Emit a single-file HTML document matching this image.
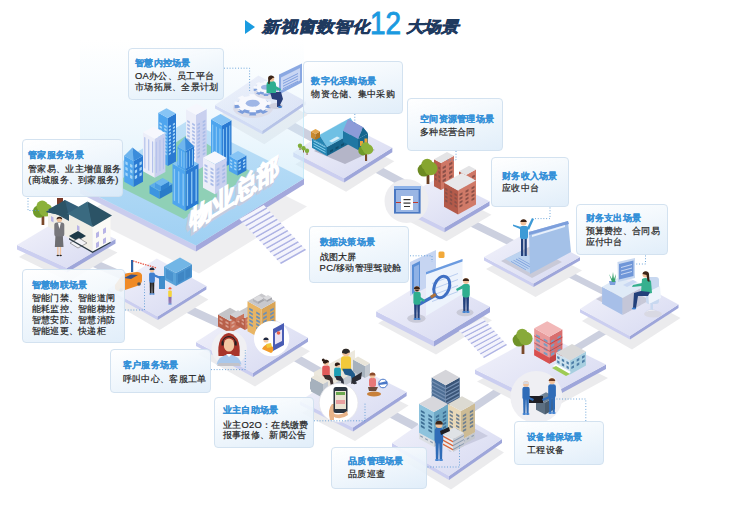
<!DOCTYPE html>
<html><head><meta charset="utf-8"><style>
html,body{margin:0;padding:0;background:#fff;}
body{width:742px;height:509px;position:relative;overflow:hidden;font-family:"Liberation Sans",sans-serif;}
svg{position:absolute;left:0;top:0;}
.lb{position:absolute;box-sizing:border-box;border:1px solid #d3e2f0;border-radius:4px;background:linear-gradient(165deg,rgba(255,255,255,.93) 0%,rgba(244,249,253,.9) 35%,rgba(222,236,249,.9) 100%);}
.lt{position:absolute;color:#3390d8;font-size:9.4px;letter-spacing:0.3px;font-weight:bold;-webkit-text-stroke:0.1px #3390d8;line-height:12px;white-space:nowrap;}
.lx{position:absolute;color:#1e1e1e;font-size:9.4px;letter-spacing:0.3px;-webkit-text-stroke:0.2px #1e1e1e;line-height:12px;white-space:nowrap;}
.tt{position:absolute;font-size:17.8px;font-weight:900;color:#1f3a5f;white-space:nowrap;line-height:20px;-webkit-text-stroke:0.7px #1f3a5f;transform-origin:0 0;transform:scaleY(0.87) skewX(-13deg);}
.t12{position:absolute;left:370px;top:6.5px;font-size:31px;line-height:34px;color:#1a9ae0;white-space:nowrap;-webkit-text-stroke:0.9px #1a9ae0;transform-origin:0 0;transform:scaleX(0.9);}
.tri{position:absolute;left:245px;top:20px;width:0;height:0;border-top:7.5px solid transparent;border-bottom:7.5px solid transparent;border-left:10px solid #1a9be0;}
</style></head><body>
<svg width="742" height="509" viewBox="0 0 742 509">
<defs>
<linearGradient id="gTop" x1="0" y1="0" x2="1" y2="1"><stop offset="0" stop-color="#f3f3fb"/><stop offset="1" stop-color="#d6d9f1"/></linearGradient>
<linearGradient id="gGlow" gradientUnits="userSpaceOnUse" x1="0" y1="40" x2="0" y2="240"><stop offset="0" stop-color="#e3f2fc" stop-opacity="0"/><stop offset="0.25" stop-color="#e0f1fc" stop-opacity="0.3"/><stop offset="0.45" stop-color="#d8eefb" stop-opacity="0.42"/><stop offset="0.65" stop-color="#d2ecfa" stop-opacity="0.62"/><stop offset="1" stop-color="#c9e8f9" stop-opacity="0.85"/></linearGradient>
<linearGradient id="gHQ" x1="0" y1="0" x2="0" y2="1"><stop offset="0" stop-color="#bfe0f7"/><stop offset="1" stop-color="#9fd0f3"/></linearGradient>
</defs>
<polygon points="255.0,101.0 330.0,142.0 330.0,152.0 255.0,111.0" fill="#ccd0df" />
<polygon points="360.0,155.5 420.0,187.5 420.0,196.5 360.0,164.5" fill="#ccd0df" />
<polygon points="455.0,211.0 520.0,243.0 520.0,251.0 455.0,219.0" fill="#ccd0df" />
<polygon points="545.0,258.5 612.0,292.5 612.0,299.5 545.0,265.5" fill="#ccd0df" />
<polygon points="620.0,318.0 560.0,354.0 560.0,362.0 620.0,326.0" fill="#ccd0df" />
<polygon points="512.0,377.5 470.0,405.5 470.0,414.5 512.0,386.5" fill="#ccd0df" />
<polygon points="418.0,423.5 380.0,403.5 380.0,412.5 418.0,432.5" fill="#ccd0df" />
<polygon points="282.0,345.5 335.0,375.5 335.0,384.5 282.0,354.5" fill="#ccd0df" />
<polygon points="175.0,298.5 225.0,321.5 225.0,330.5 175.0,307.5" fill="#ccd0df" />
<polygon points="75.0,250.8 128.0,273.8 128.0,282.2 75.0,259.2" fill="#ccd0df" />
<polygon points="19.0,257.0 69.0,281.5 117.5,252.5 67.5,229.5" fill="#ebebed" />
<polygon points="17.0,245.0 67.0,268.0 67.0,272.5 17.0,249.5" fill="#cbcef0" />
<polygon points="67.0,268.0 115.5,239.0 115.5,243.5 67.0,272.5" fill="#9ea6da" />
<polygon points="17.0,245.0 67.0,268.0 115.5,239.0 65.5,216.0" fill="url(#gTop)" />
<polygon points="110.0,301.0 159.6,330.0 208.4,299.5 158.8,272.0" fill="#ebebed" />
<polygon points="108.0,289.0 157.6,316.5 157.6,320.0 108.0,292.5" fill="#cbcef0" />
<polygon points="157.6,316.5 206.4,286.0 206.4,289.5 157.6,320.0" fill="#9ea6da" />
<polygon points="108.0,289.0 157.6,316.5 206.4,286.0 156.8,258.5" fill="url(#gTop)" />
<polygon points="198.0,354.0 255.0,386.5 310.0,351.2 253.0,320.2" fill="#ebebed" />
<polygon points="196.0,342.0 253.0,373.0 253.0,377.0 196.0,346.0" fill="#cbcef0" />
<polygon points="253.0,373.0 308.0,337.7 308.0,341.7 253.0,377.0" fill="#9ea6da" />
<polygon points="196.0,342.0 253.0,373.0 308.0,337.7 251.0,306.7" fill="url(#gTop)" />
<polygon points="302.0,413.0 355.0,441.0 408.6,405.5 355.6,379.0" fill="#ebebed" />
<polygon points="300.0,401.0 353.0,427.5 353.0,431.5 300.0,405.0" fill="#cbcef0" />
<polygon points="353.0,427.5 406.6,392.0 406.6,396.0 353.0,431.5" fill="#9ea6da" />
<polygon points="300.0,401.0 353.0,427.5 406.6,392.0 353.6,365.5" fill="url(#gTop)" />
<polygon points="394.0,455.0 451.0,489.5 504.0,452.5 447.0,419.5" fill="#ebebed" />
<polygon points="392.0,443.0 449.0,476.0 449.0,480.0 392.0,447.0" fill="#cbcef0" />
<polygon points="449.0,476.0 502.0,439.0 502.0,443.0 449.0,480.0" fill="#9ea6da" />
<polygon points="392.0,443.0 449.0,476.0 502.0,439.0 445.0,406.0" fill="url(#gTop)" />
<polygon points="477.0,381.5 541.0,414.5 608.0,378.0 544.0,346.5" fill="#ebebed" />
<polygon points="475.0,369.5 539.0,401.0 539.0,405.5 475.0,374.0" fill="#cbcef0" />
<polygon points="539.0,401.0 606.0,364.5 606.0,369.0 539.0,405.5" fill="#9ea6da" />
<polygon points="475.0,369.5 539.0,401.0 606.0,364.5 542.0,333.0" fill="url(#gTop)" />
<polygon points="378.1,323.2 436.0,354.5 492.0,320.3 434.1,290.5" fill="#ebebed" />
<polygon points="376.1,311.2 434.0,341.0 434.0,346.5 376.1,316.7" fill="#cbcef0" />
<polygon points="434.0,341.0 490.0,306.8 490.0,312.3 434.0,346.5" fill="#9ea6da" />
<polygon points="376.1,311.2 434.0,341.0 490.0,306.8 432.1,277.0" fill="url(#gTop)" />
<polygon points="582.0,321.0 632.0,349.5 680.5,318.0 630.5,291.0" fill="#ebebed" />
<polygon points="580.0,309.0 630.0,336.0 630.0,339.5 580.0,312.5" fill="#cbcef0" />
<polygon points="630.0,336.0 678.5,304.5 678.5,308.0 630.0,339.5" fill="#9ea6da" />
<polygon points="580.0,309.0 630.0,336.0 678.5,304.5 628.5,277.5" fill="url(#gTop)" />
<polygon points="486.0,269.0 535.5,297.0 582.0,270.5 532.5,244.0" fill="#ebebed" />
<polygon points="484.0,257.0 533.5,283.5 533.5,287.0 484.0,260.5" fill="#cbcef0" />
<polygon points="533.5,283.5 580.0,257.0 580.0,260.5 533.5,287.0" fill="#9ea6da" />
<polygon points="484.0,257.0 533.5,283.5 580.0,257.0 530.5,230.5" fill="url(#gTop)" />
<polygon points="397.0,215.0 446.5,241.2 491.5,214.7 442.0,190.0" fill="#ebebed" />
<polygon points="395.0,203.0 444.5,227.7 444.5,232.2 395.0,207.5" fill="#cbcef0" />
<polygon points="444.5,227.7 489.5,201.2 489.5,205.7 444.5,232.2" fill="#9ea6da" />
<polygon points="395.0,203.0 444.5,227.7 489.5,201.2 440.0,176.5" fill="url(#gTop)" />
<polygon points="295.3,164.3 346.1,191.7 394.3,161.3 343.5,135.4" fill="#ebebed" />
<polygon points="293.3,152.3 344.1,178.2 344.1,182.6 293.3,156.7" fill="#cbcef0" />
<polygon points="344.1,178.2 392.3,147.8 392.3,152.2 344.1,182.6" fill="#9ea6da" />
<polygon points="293.3,152.3 344.1,178.2 392.3,147.8 341.5,121.9" fill="url(#gTop)" />
<polygon points="217.0,117.0 264.3,144.2 307.7,114.8 260.4,89.1" fill="#ebebed" />
<polygon points="215.0,105.0 262.3,130.7 262.3,134.2 215.0,108.5" fill="#cbcef0" />
<polygon points="262.3,130.7 305.7,101.3 305.7,104.8 262.3,134.2" fill="#9ea6da" />
<polygon points="215.0,105.0 262.3,130.7 305.7,101.3 258.4,75.6" fill="url(#gTop)" />
<polygon points="83.0,215.5 199.0,273.5 307.0,206.5 191.0,148.5" fill="#eeeef0" />
<polygon points="80.0,40.0 304.0,40.0 304.0,178.5 196.0,245.5 80.0,187.5" fill="url(#gGlow)" />
<line x1="303.5" y1="70" x2="303.5" y2="179" stroke="#bfe8f8" stroke-width="1" opacity="0.7"/>
<polygon points="80.0,187.5 196.0,245.5 196.0,251.5 80.0,193.5" fill="#c9ccee" />
<polygon points="196.0,245.5 304.0,178.5 304.0,184.5 196.0,251.5" fill="#a3a8dc" />
<polygon points="80.0,187.5 196.0,245.5 304.0,178.5 188.0,120.5" fill="url(#gHQ)" />
<polygon points="114.0,184.0 184.0,219.0 253.0,173.0 190.0,133.0" fill="#8fd0b6" />
<polygon points="158.3,112.8 167.8,118.0 167.8,166.0 158.3,160.8" fill="#4ea5ee" />
<polygon points="167.8,118.0 176.0,113.5 176.0,161.5 167.8,166.0" fill="#2a7ad2" />
<polygon points="158.3,112.8 167.8,118.0 176.0,113.5 166.5,108.3" fill="#86c4f5" />
<polygon points="159.5,123.9 161.9,125.3 161.9,123.4 159.5,122.1" fill="#a5d5f7" />
<polygon points="164.2,126.6 166.6,127.9 166.6,126.0 164.2,124.7" fill="#a5d5f7" />
<polygon points="159.5,127.4 161.9,128.7 161.9,126.8 159.5,125.5" fill="#a5d5f7" />
<polygon points="164.2,130.0 166.6,131.3 166.6,129.4 164.2,128.1" fill="#a5d5f7" />
<polygon points="159.5,130.8 161.9,132.1 161.9,130.2 159.5,128.9" fill="#a5d5f7" />
<polygon points="164.2,133.4 166.6,134.7 166.6,132.8 164.2,131.5" fill="#a5d5f7" />
<polygon points="159.5,134.2 161.9,135.5 161.9,133.6 159.5,132.3" fill="#a5d5f7" />
<polygon points="164.2,136.8 166.6,138.1 166.6,136.2 164.2,134.9" fill="#a5d5f7" />
<polygon points="159.5,137.6 161.9,138.9 161.9,137.0 159.5,135.7" fill="#a5d5f7" />
<polygon points="164.2,140.2 166.6,141.5 166.6,139.6 164.2,138.3" fill="#a5d5f7" />
<polygon points="159.5,141.0 161.9,142.3 161.9,140.4 159.5,139.1" fill="#a5d5f7" />
<polygon points="164.2,143.6 166.6,144.9 166.6,143.1 164.2,141.7" fill="#a5d5f7" />
<polygon points="159.5,144.4 161.9,145.7 161.9,143.9 159.5,142.5" fill="#a5d5f7" />
<polygon points="164.2,147.0 166.6,148.3 166.6,146.5 164.2,145.2" fill="#a5d5f7" />
<polygon points="159.5,147.8 161.9,149.1 161.9,147.3 159.5,146.0" fill="#a5d5f7" />
<polygon points="164.2,150.5 166.6,151.8 166.6,149.9 164.2,148.6" fill="#a5d5f7" />
<polygon points="159.5,151.3 161.9,152.6 161.9,150.7 159.5,149.4" fill="#a5d5f7" />
<polygon points="164.2,153.9 166.6,155.2 166.6,153.3 164.2,152.0" fill="#a5d5f7" />
<polygon points="168.8,128.0 170.9,126.8 170.9,124.9 168.8,126.1" fill="#a5d5f7" />
<polygon points="172.9,125.7 175.0,124.6 175.0,122.7 172.9,123.8" fill="#a5d5f7" />
<polygon points="168.8,131.4 170.9,130.2 170.9,128.4 168.8,129.5" fill="#a5d5f7" />
<polygon points="172.9,129.1 175.0,128.0 175.0,126.1 172.9,127.2" fill="#a5d5f7" />
<polygon points="168.8,134.8 170.9,133.7 170.9,131.8 168.8,132.9" fill="#a5d5f7" />
<polygon points="172.9,132.5 175.0,131.4 175.0,129.5 172.9,130.6" fill="#a5d5f7" />
<polygon points="168.8,138.2 170.9,137.1 170.9,135.2 168.8,136.3" fill="#a5d5f7" />
<polygon points="172.9,135.9 175.0,134.8 175.0,132.9 172.9,134.1" fill="#a5d5f7" />
<polygon points="168.8,141.6 170.9,140.5 170.9,138.6 168.8,139.7" fill="#a5d5f7" />
<polygon points="172.9,139.4 175.0,138.2 175.0,136.3 172.9,137.5" fill="#a5d5f7" />
<polygon points="168.8,145.0 170.9,143.9 170.9,142.0 168.8,143.1" fill="#a5d5f7" />
<polygon points="172.9,142.8 175.0,141.6 175.0,139.8 172.9,140.9" fill="#a5d5f7" />
<polygon points="168.8,148.4 170.9,147.3 170.9,145.4 168.8,146.6" fill="#a5d5f7" />
<polygon points="172.9,146.2 175.0,145.1 175.0,143.2 172.9,144.3" fill="#a5d5f7" />
<polygon points="168.8,151.8 170.9,150.7 170.9,148.8 168.8,150.0" fill="#a5d5f7" />
<polygon points="172.9,149.6 175.0,148.5 175.0,146.6 172.9,147.7" fill="#a5d5f7" />
<polygon points="168.8,155.3 170.9,154.1 170.9,152.3 168.8,153.4" fill="#a5d5f7" />
<polygon points="172.9,153.0 175.0,151.9 175.0,150.0 172.9,151.1" fill="#a5d5f7" />
<polygon points="186.0,109.3 196.0,114.8 196.0,170.8 186.0,165.3" fill="#eceef9" />
<polygon points="196.0,114.8 206.7,108.9 206.7,164.9 196.0,170.8" fill="#c9d0ef" />
<polygon points="186.0,109.3 196.0,114.8 206.7,108.9 196.7,103.4" fill="#f6f7fd" />
<polygon points="187.2,122.0 189.8,123.4 189.8,121.4 187.2,120.1" fill="#a9bbe8" />
<polygon points="192.2,124.8 194.8,126.2 194.8,124.2 192.2,122.8" fill="#a9bbe8" />
<polygon points="187.2,125.6 189.8,127.0 189.8,125.0 187.2,123.7" fill="#a9bbe8" />
<polygon points="192.2,128.4 194.8,129.7 194.8,127.8 192.2,126.4" fill="#a9bbe8" />
<polygon points="187.2,129.2 189.8,130.6 189.8,128.6 187.2,127.2" fill="#a9bbe8" />
<polygon points="192.2,132.0 194.8,133.3 194.8,131.4 192.2,130.0" fill="#a9bbe8" />
<polygon points="187.2,132.8 189.8,134.2 189.8,132.2 187.2,130.8" fill="#a9bbe8" />
<polygon points="192.2,135.5 194.8,136.9 194.8,134.9 192.2,133.6" fill="#a9bbe8" />
<polygon points="187.2,136.4 189.8,137.7 189.8,135.8 187.2,134.4" fill="#a9bbe8" />
<polygon points="192.2,139.1 194.8,140.5 194.8,138.5 192.2,137.2" fill="#a9bbe8" />
<polygon points="187.2,140.0 189.8,141.3 189.8,139.4 187.2,138.0" fill="#a9bbe8" />
<polygon points="192.2,142.7 194.8,144.1 194.8,142.1 192.2,140.7" fill="#a9bbe8" />
<polygon points="187.2,143.5 189.8,144.9 189.8,142.9 187.2,141.6" fill="#a9bbe8" />
<polygon points="192.2,146.3 194.8,147.7 194.8,145.7 192.2,144.3" fill="#a9bbe8" />
<polygon points="187.2,147.1 189.8,148.5 189.8,146.5 187.2,145.2" fill="#a9bbe8" />
<polygon points="192.2,149.9 194.8,151.3 194.8,149.3 192.2,147.9" fill="#a9bbe8" />
<polygon points="187.2,150.7 189.8,152.1 189.8,150.1 187.2,148.7" fill="#a9bbe8" />
<polygon points="192.2,153.5 194.8,154.8 194.8,152.9 192.2,151.5" fill="#a9bbe8" />
<polygon points="187.2,154.3 189.8,155.7 189.8,153.7 187.2,152.3" fill="#a9bbe8" />
<polygon points="192.2,157.0 194.8,158.4 194.8,156.4 192.2,155.1" fill="#a9bbe8" />
<polygon points="197.3,126.1 200.0,124.6 200.0,122.7 197.3,124.1" fill="#a9bbe8" />
<polygon points="202.7,123.2 205.4,121.7 205.4,119.7 202.7,121.2" fill="#a9bbe8" />
<polygon points="197.3,129.7 200.0,128.2 200.0,126.3 197.3,127.7" fill="#a9bbe8" />
<polygon points="202.7,126.8 205.4,125.3 205.4,123.3 202.7,124.8" fill="#a9bbe8" />
<polygon points="197.3,133.3 200.0,131.8 200.0,129.8 197.3,131.3" fill="#a9bbe8" />
<polygon points="202.7,130.3 205.4,128.9 205.4,126.9 202.7,128.4" fill="#a9bbe8" />
<polygon points="197.3,136.9 200.0,135.4 200.0,133.4 197.3,134.9" fill="#a9bbe8" />
<polygon points="202.7,133.9 205.4,132.5 205.4,130.5 202.7,132.0" fill="#a9bbe8" />
<polygon points="197.3,140.5 200.0,139.0 200.0,137.0 197.3,138.5" fill="#a9bbe8" />
<polygon points="202.7,137.5 205.4,136.0 205.4,134.1 202.7,135.5" fill="#a9bbe8" />
<polygon points="197.3,144.0 200.0,142.6 200.0,140.6 197.3,142.1" fill="#a9bbe8" />
<polygon points="202.7,141.1 205.4,139.6 205.4,137.7 202.7,139.1" fill="#a9bbe8" />
<polygon points="197.3,147.6 200.0,146.1 200.0,144.2 197.3,145.6" fill="#a9bbe8" />
<polygon points="202.7,144.7 205.4,143.2 205.4,141.2 202.7,142.7" fill="#a9bbe8" />
<polygon points="197.3,151.2 200.0,149.7 200.0,147.8 197.3,149.2" fill="#a9bbe8" />
<polygon points="202.7,148.3 205.4,146.8 205.4,144.8 202.7,146.3" fill="#a9bbe8" />
<polygon points="197.3,154.8 200.0,153.3 200.0,151.3 197.3,152.8" fill="#a9bbe8" />
<polygon points="202.7,151.8 205.4,150.4 205.4,148.4 202.7,149.9" fill="#a9bbe8" />
<polygon points="197.3,158.4 200.0,156.9 200.0,154.9 197.3,156.4" fill="#a9bbe8" />
<polygon points="202.7,155.4 205.4,154.0 205.4,152.0 202.7,153.5" fill="#a9bbe8" />
<polygon points="211.0,119.3 222.0,125.4 222.0,168.4 211.0,162.3" fill="#4ea5ee" />
<polygon points="222.0,125.4 231.5,120.2 231.5,163.2 222.0,168.4" fill="#2a7ad2" />
<polygon points="211.0,119.3 222.0,125.4 231.5,120.2 220.5,114.1" fill="#86c4f5" />
<polygon points="212.1,124.3 213.2,124.9 213.2,159.3 212.1,158.7" fill="#8cc8f4" />
<polygon points="222.9,129.2 223.9,128.7 223.9,163.1 222.9,163.6" fill="#8cc8f4" />
<polygon points="215.8,126.3 216.9,126.9 216.9,161.3 215.8,160.7" fill="#8cc8f4" />
<polygon points="226.1,127.4 227.1,126.9 227.1,161.3 226.1,161.8" fill="#8cc8f4" />
<polygon points="219.4,128.3 220.5,128.9 220.5,163.3 219.4,162.7" fill="#8cc8f4" />
<polygon points="229.3,125.7 230.2,125.2 230.2,159.6 229.3,160.1" fill="#8cc8f4" />
<polygon points="229.0,155.9 237.4,160.5 237.4,175.5 229.0,170.9" fill="#4ea5ee" />
<polygon points="237.4,160.5 246.4,155.6 246.4,170.6 237.4,175.5" fill="#2a7ad2" />
<polygon points="229.0,155.9 237.4,160.5 246.4,155.6 238.0,150.9" fill="#86c4f5" />
<polygon points="230.1,160.9 232.2,162.1 232.2,160.3 230.1,159.2" fill="#a5d5f7" />
<polygon points="234.2,163.2 236.3,164.4 236.3,162.6 234.2,161.5" fill="#a5d5f7" />
<polygon points="230.1,164.1 232.2,165.3 232.2,163.5 230.1,162.4" fill="#a5d5f7" />
<polygon points="234.2,166.4 236.3,167.6 236.3,165.8 234.2,164.7" fill="#a5d5f7" />
<polygon points="230.1,167.3 232.2,168.5 232.2,166.7 230.1,165.6" fill="#a5d5f7" />
<polygon points="234.2,169.6 236.3,170.8 236.3,169.0 234.2,167.9" fill="#a5d5f7" />
<polygon points="238.5,164.3 240.8,163.1 240.8,161.3 238.5,162.6" fill="#a5d5f7" />
<polygon points="243.0,161.9 245.3,160.6 245.3,158.9 243.0,160.1" fill="#a5d5f7" />
<polygon points="238.5,167.5 240.8,166.3 240.8,164.5 238.5,165.8" fill="#a5d5f7" />
<polygon points="243.0,165.1 245.3,163.8 245.3,162.1 243.0,163.3" fill="#a5d5f7" />
<polygon points="238.5,170.7 240.8,169.5 240.8,167.7 238.5,169.0" fill="#a5d5f7" />
<polygon points="243.0,168.3 245.3,167.0 245.3,165.3 243.0,166.5" fill="#a5d5f7" />
<polygon points="143.0,132.3 154.8,138.8 154.8,177.8 143.0,171.3" fill="#eceef9" />
<polygon points="154.8,138.8 165.4,133.0 165.4,172.0 154.8,177.8" fill="#c9d0ef" />
<polygon points="143.0,132.3 154.8,138.8 165.4,133.0 153.6,126.5" fill="#f6f7fd" />
<polygon points="144.2,136.9 145.4,137.5 145.4,168.7 144.2,168.1" fill="#b4c2ec" />
<polygon points="155.9,142.1 156.9,141.5 156.9,172.7 155.9,173.3" fill="#b4c2ec" />
<polygon points="148.1,139.0 149.3,139.7 149.3,170.9 148.1,170.2" fill="#b4c2ec" />
<polygon points="159.4,140.2 160.5,139.6 160.5,170.8 159.4,171.4" fill="#b4c2ec" />
<polygon points="152.0,141.2 153.2,141.8 153.2,173.0 152.0,172.4" fill="#b4c2ec" />
<polygon points="162.9,138.2 164.0,137.6 164.0,168.8 162.9,169.4" fill="#b4c2ec" />
<polygon points="124.2,155.8 133.6,161.0 133.6,187.0 124.2,181.8" fill="#4ea5ee" />
<polygon points="133.6,161.0 143.0,155.8 143.0,181.8 133.6,187.0" fill="#2a7ad2" />
<polygon points="124.2,155.8 133.6,161.0 143.0,155.8 133.6,150.7" fill="#86c4f5" />
<polygon points="125.4,164.2 127.7,165.5 127.7,162.4 125.4,161.2" fill="#a5d5f7" />
<polygon points="130.1,166.8 132.4,168.1 132.4,165.0 130.1,163.7" fill="#a5d5f7" />
<polygon points="125.4,169.8 127.7,171.0 127.7,168.0 125.4,166.7" fill="#a5d5f7" />
<polygon points="130.1,172.3 132.4,173.6 132.4,170.6 130.1,169.3" fill="#a5d5f7" />
<polygon points="125.4,175.3 127.7,176.6 127.7,173.5 125.4,172.2" fill="#a5d5f7" />
<polygon points="130.1,177.9 132.4,179.2 132.4,176.1 130.1,174.8" fill="#a5d5f7" />
<polygon points="134.8,168.1 137.1,166.8 137.1,163.7 134.8,165.0" fill="#a5d5f7" />
<polygon points="139.5,165.5 141.8,164.2 141.8,161.2 139.5,162.4" fill="#a5d5f7" />
<polygon points="134.8,173.6 137.1,172.3 137.1,169.3 134.8,170.6" fill="#a5d5f7" />
<polygon points="139.5,171.0 141.8,169.8 141.8,166.7 139.5,168.0" fill="#a5d5f7" />
<polygon points="134.8,179.2 137.1,177.9 137.1,174.8 134.8,176.1" fill="#a5d5f7" />
<polygon points="139.5,176.6 141.8,175.3 141.8,172.2 139.5,173.5" fill="#a5d5f7" />
<polygon points="124.2,155.8 133.6,161.0 132.4,147.5" fill="#6fb5ee" />
<polygon points="133.6,161.0 143.0,155.8 132.4,147.5" fill="#3b8cdb" />
<polygon points="203.0,157.7 215.0,164.3 215.0,194.3 203.0,187.7" fill="#eceef9" />
<polygon points="215.0,164.3 226.7,157.9 226.7,187.9 215.0,194.3" fill="#c9d0ef" />
<polygon points="203.0,157.7 215.0,164.3 226.7,157.9 214.7,151.3" fill="#f6f7fd" />
<polygon points="204.5,166.0 207.5,167.7 207.5,165.6 204.5,163.9" fill="#a9bbe8" />
<polygon points="210.5,169.3 213.5,171.0 213.5,168.9 210.5,167.2" fill="#a9bbe8" />
<polygon points="204.5,169.9 207.5,171.5 207.5,169.4 204.5,167.8" fill="#a9bbe8" />
<polygon points="210.5,173.2 213.5,174.8 213.5,172.7 210.5,171.1" fill="#a9bbe8" />
<polygon points="204.5,173.7 207.5,175.4 207.5,173.3 204.5,171.6" fill="#a9bbe8" />
<polygon points="210.5,177.0 213.5,178.7 213.5,176.6 210.5,174.9" fill="#a9bbe8" />
<polygon points="204.5,177.6 207.5,179.2 207.5,177.1 204.5,175.4" fill="#a9bbe8" />
<polygon points="210.5,180.9 213.5,182.5 213.5,180.4 210.5,178.7" fill="#a9bbe8" />
<polygon points="204.5,181.4 207.5,183.0 207.5,180.9 204.5,179.3" fill="#a9bbe8" />
<polygon points="210.5,184.7 213.5,186.3 213.5,184.2 210.5,182.6" fill="#a9bbe8" />
<polygon points="216.5,171.0 219.4,169.4 219.4,167.3 216.5,168.9" fill="#a9bbe8" />
<polygon points="222.3,167.8 225.2,166.2 225.2,164.1 222.3,165.7" fill="#a9bbe8" />
<polygon points="216.5,174.8 219.4,173.2 219.4,171.1 216.5,172.7" fill="#a9bbe8" />
<polygon points="222.3,171.6 225.2,170.0 225.2,167.9 222.3,169.5" fill="#a9bbe8" />
<polygon points="216.5,178.7 219.4,177.1 219.4,175.0 216.5,176.6" fill="#a9bbe8" />
<polygon points="222.3,175.5 225.2,173.9 225.2,171.7 222.3,173.4" fill="#a9bbe8" />
<polygon points="216.5,182.5 219.4,180.9 219.4,178.8 216.5,180.4" fill="#a9bbe8" />
<polygon points="222.3,179.3 225.2,177.7 225.2,175.6 222.3,177.2" fill="#a9bbe8" />
<polygon points="216.5,186.4 219.4,184.8 219.4,182.6 216.5,184.3" fill="#a9bbe8" />
<polygon points="222.3,183.2 225.2,181.5 225.2,179.4 222.3,181.0" fill="#a9bbe8" />
<polygon points="149.5,185.5 159.5,191.0 159.5,199.0 149.5,193.5" fill="#3d95e0" />
<polygon points="159.5,191.0 172.5,183.8 172.5,191.8 159.5,199.0" fill="#2a7cc8" />
<polygon points="149.5,185.5 159.5,191.0 172.5,183.8 162.5,178.3" fill="#5eaee9" />
<polygon points="155.0,182.7 161.0,186.0 161.0,191.0 155.0,187.7" fill="#4a9ee4" />
<polygon points="161.0,186.0 169.0,181.6 169.0,186.6 161.0,191.0" fill="#2f82cf" />
<polygon points="155.0,182.7 161.0,186.0 169.0,181.6 163.0,178.3" fill="#6fb8ee" />
<polygon points="172.5,163.8 185.5,171.0 185.5,211.0 172.5,203.8" fill="#4ea5ee" />
<polygon points="185.5,171.0 198.5,163.8 198.5,203.8 185.5,211.0" fill="#2a7ad2" />
<polygon points="172.5,163.8 185.5,171.0 198.5,163.8 185.5,156.7" fill="#86c4f5" />
<polygon points="173.8,168.6 175.1,169.3 175.1,201.3 173.8,200.6" fill="#8cc8f4" />
<polygon points="186.8,174.3 188.1,173.6 188.1,205.6 186.8,206.3" fill="#8cc8f4" />
<polygon points="178.1,170.9 179.4,171.7 179.4,203.7 178.1,202.9" fill="#8cc8f4" />
<polygon points="191.1,171.9 192.4,171.2 192.4,203.2 191.1,203.9" fill="#8cc8f4" />
<polygon points="182.5,173.3 183.8,174.0 183.8,206.0 182.5,205.3" fill="#8cc8f4" />
<polygon points="195.5,169.5 196.8,168.8 196.8,200.8 195.5,201.5" fill="#8cc8f4" />
<polygon points="177.5,146.6 185.5,151.0 185.5,171.0 177.5,166.6" fill="#4ea5ee" />
<polygon points="185.5,151.0 194.0,146.3 194.0,166.3 185.5,171.0" fill="#2a7ad2" />
<polygon points="177.5,146.6 185.5,151.0 194.0,146.3 186.0,141.9" fill="#86c4f5" />
<polygon points="178.3,149.0 179.1,149.5 179.1,165.5 178.3,165.0" fill="#8cc8f4" />
<polygon points="186.3,152.5 187.2,152.1 187.2,168.1 186.3,168.5" fill="#8cc8f4" />
<polygon points="181.0,150.5 181.8,150.9 181.8,166.9 181.0,166.5" fill="#8cc8f4" />
<polygon points="189.2,151.0 190.0,150.5 190.0,166.5 189.2,167.0" fill="#8cc8f4" />
<polygon points="183.6,152.0 184.4,152.4 184.4,168.4 183.6,168.0" fill="#8cc8f4" />
<polygon points="192.0,149.4 192.9,148.9 192.9,164.9 192.0,165.4" fill="#8cc8f4" />
<polygon points="177.5,146.6 185.5,151.0 185.0,137.0" fill="#6fb5ee" />
<polygon points="185.5,151.0 194.0,146.3 185.0,137.0" fill="#3b8cdb" />
<g transform="translate(190,230) skewY(-32) scale(0.88,1)" font-family="Liberation Sans, sans-serif" font-weight="900" font-size="25.5" letter-spacing="0"><text x="-3.2" y="2.6" fill="#c3ccdf" stroke="#c3ccdf" stroke-width="1.3">物业总部</text><text x="-2.4" y="1.95" fill="#c3ccdf" stroke="#c3ccdf" stroke-width="1.3">物业总部</text><text x="-1.6" y="1.3" fill="#c3ccdf" stroke="#c3ccdf" stroke-width="1.3">物业总部</text><text x="-0.8" y="0.65" fill="#c3ccdf" stroke="#c3ccdf" stroke-width="1.3">物业总部</text><text x="0" y="0" fill="#ffffff" stroke="#ffffff" stroke-width="1.3">物业总部</text></g>
<polygon points="239.4,219.0 263.8,205.0 267.3,208.8 242.9,222.8" fill="#f4f4fc" />
<polygon points="241.8,221.6 266.2,207.6 267.3,208.8 242.9,222.8" fill="#aeb3e4" />
<polygon points="242.9,222.8 267.3,208.8 270.8,212.5 246.3,226.5" fill="#f4f4fc" />
<polygon points="245.2,225.3 269.7,211.3 270.8,212.5 246.3,226.5" fill="#aeb3e4" />
<polygon points="246.3,226.5 270.8,212.5 274.4,216.2 249.8,230.2" fill="#f4f4fc" />
<polygon points="248.7,229.1 273.2,215.1 274.4,216.2 249.8,230.2" fill="#aeb3e4" />
<polygon points="249.8,230.2 274.4,216.2 277.9,220.0 253.3,234.0" fill="#f4f4fc" />
<polygon points="252.2,232.8 276.7,218.8 277.9,220.0 253.3,234.0" fill="#aeb3e4" />
<polygon points="253.3,234.0 277.9,220.0 281.4,223.8 256.7,237.8" fill="#f4f4fc" />
<polygon points="255.6,236.6 280.3,222.6 281.4,223.8 256.7,237.8" fill="#aeb3e4" />
<polygon points="256.7,237.8 281.4,223.8 284.9,227.5 260.2,241.5" fill="#f4f4fc" />
<polygon points="259.1,240.3 283.8,226.3 284.9,227.5 260.2,241.5" fill="#aeb3e4" />
<polygon points="260.2,241.5 284.9,227.5 288.4,231.2 263.7,245.2" fill="#f4f4fc" />
<polygon points="262.6,244.1 287.3,230.1 288.4,231.2 263.7,245.2" fill="#aeb3e4" />
<polygon points="263.7,245.2 288.4,231.2 291.9,235.0 267.1,249.0" fill="#f4f4fc" />
<polygon points="266.0,247.8 290.8,233.8 291.9,235.0 267.1,249.0" fill="#aeb3e4" />
<polygon points="267.1,249.0 291.9,235.0 295.4,238.8 270.6,252.8" fill="#f4f4fc" />
<polygon points="269.5,251.6 294.3,237.6 295.4,238.8 270.6,252.8" fill="#aeb3e4" />
<polygon points="270.6,252.8 295.4,238.8 299.0,242.5 274.1,256.5" fill="#f4f4fc" />
<polygon points="273.0,255.3 297.8,241.3 299.0,242.5 274.1,256.5" fill="#aeb3e4" />
<polygon points="274.1,256.5 299.0,242.5 302.5,246.2 277.5,260.2" fill="#f4f4fc" />
<polygon points="276.4,259.1 301.4,245.1 302.5,246.2 277.5,260.2" fill="#aeb3e4" />
<polygon points="277.5,260.2 302.5,246.2 306.0,250.0 281.0,264.0" fill="#f4f4fc" />
<polygon points="279.9,262.8 304.9,248.8 306.0,250.0 281.0,264.0" fill="#aeb3e4" />
<polygon points="459.0,330.4 483.0,318.2 486.0,321.6 462.1,333.8" fill="#f4f4fc" />
<polygon points="461.1,332.7 485.0,320.5 486.0,321.6 462.1,333.8" fill="#aeb3e4" />
<polygon points="462.1,333.8 486.0,321.6 489.0,324.9 465.2,337.3" fill="#f4f4fc" />
<polygon points="464.2,336.2 488.0,323.8 489.0,324.9 465.2,337.3" fill="#aeb3e4" />
<polygon points="465.2,337.3 489.0,324.9 492.0,328.2 468.4,340.8" fill="#f4f4fc" />
<polygon points="467.4,339.6 491.0,327.2 492.0,328.2 468.4,340.8" fill="#aeb3e4" />
<polygon points="468.4,340.8 492.0,328.2 495.0,331.6 471.5,344.2" fill="#f4f4fc" />
<polygon points="470.5,343.1 494.0,330.5 495.0,331.6 471.5,344.2" fill="#aeb3e4" />
<polygon points="471.5,344.2 495.0,331.6 498.0,334.9 474.6,347.6" fill="#f4f4fc" />
<polygon points="473.6,346.5 497.0,333.9 498.0,334.9 474.6,347.6" fill="#aeb3e4" />
<polygon points="474.6,347.6 498.0,334.9 501.0,338.3 477.8,351.1" fill="#f4f4fc" />
<polygon points="476.8,350.0 500.0,337.2 501.0,338.3 477.8,351.1" fill="#aeb3e4" />
<polygon points="477.8,351.1 501.0,338.3 504.0,341.6 480.9,354.6" fill="#f4f4fc" />
<polygon points="479.9,353.4 503.0,340.6 504.0,341.6 480.9,354.6" fill="#aeb3e4" />
<polygon points="480.9,354.6 504.0,341.6 507.0,345.0 484.0,358.0" fill="#f4f4fc" />
<polygon points="483.0,356.9 506.0,343.9 507.0,345.0 484.0,358.0" fill="#aeb3e4" />
<ellipse cx="253.0" cy="108.0" rx="20.0" ry="10.0" fill="#dcdde9" />
<polygon points="266.4,103.7 267.2,105.1 270.8,104.7 270.8,108.3 267.2,107.9 266.4,109.3 265.0,110.6 268.1,111.6 263.0,114.1 260.9,112.6 258.4,113.3 255.6,113.7 256.3,115.5 249.1,115.5 249.8,113.7 247.0,113.3 244.5,112.6 242.4,114.1 237.3,111.6 240.4,110.6 239.0,109.3 238.2,107.9 234.6,108.3 234.6,104.7 238.2,105.1 239.0,103.7 240.4,102.4 237.3,101.4 242.4,98.9 244.5,100.4 247.0,99.7 249.8,99.3 249.1,97.5 256.3,97.5 255.6,99.3 258.4,99.7 260.9,100.4 263.0,98.9 268.1,101.4 265.0,102.4" fill="#7c9ddb" />
<polygon points="266.4,100.4 267.2,101.8 270.8,101.4 270.8,105.0 267.2,104.6 266.4,106.0 265.0,107.3 268.1,108.3 263.0,110.8 260.9,109.3 258.4,110.0 255.6,110.4 256.3,112.2 249.1,112.2 249.8,110.4 247.0,110.0 244.5,109.3 242.4,110.8 237.3,108.3 240.4,107.3 239.0,106.0 238.2,104.6 234.6,105.0 234.6,101.4 238.2,101.8 239.0,100.4 240.4,99.1 237.3,98.1 242.4,95.6 244.5,97.1 247.0,96.4 249.8,96.0 249.1,94.2 256.3,94.2 255.6,96.0 258.4,96.4 260.9,97.1 263.0,95.6 268.1,98.1 265.0,99.1" fill="#f7f8fd" />
<ellipse cx="252.7" cy="103.2" rx="7.0" ry="3.5" fill="#9fb6e6" />
<ellipse cx="268.0" cy="92.0" rx="14.0" ry="7.0" fill="#dcdde9" />
<polygon points="275.2,87.9 275.8,88.8 278.3,88.6 278.3,91.0 275.8,90.8 275.2,91.7 274.3,92.6 276.4,93.3 272.9,95.0 271.6,94.0 269.8,94.5 268.0,94.7 268.4,96.0 263.6,96.0 264.0,94.7 262.2,94.5 260.4,94.0 259.1,95.0 255.6,93.3 257.7,92.6 256.8,91.7 256.2,90.8 253.7,91.0 253.7,88.6 256.2,88.8 256.8,87.9 257.7,87.0 255.6,86.3 259.1,84.6 260.4,85.6 262.2,85.1 264.0,84.9 263.6,83.6 268.4,83.6 268.0,84.9 269.8,85.1 271.6,85.6 272.9,84.6 276.4,86.3 274.3,87.0" fill="#7c9ddb" />
<polygon points="275.2,85.4 275.8,86.3 278.3,86.1 278.3,88.5 275.8,88.3 275.2,89.2 274.3,90.1 276.4,90.8 272.9,92.5 271.6,91.5 269.8,92.0 268.0,92.2 268.4,93.5 263.6,93.5 264.0,92.2 262.2,92.0 260.4,91.5 259.1,92.5 255.6,90.8 257.7,90.1 256.8,89.2 256.2,88.3 253.7,88.5 253.7,86.1 256.2,86.3 256.8,85.4 257.7,84.5 255.6,83.8 259.1,82.1 260.4,83.1 262.2,82.6 264.0,82.4 263.6,81.1 268.4,81.1 268.0,82.4 269.8,82.6 271.6,83.1 272.9,82.1 276.4,83.8 274.3,84.5" fill="#f7f8fd" />
<ellipse cx="266.0" cy="87.3" rx="5.0" ry="2.5" fill="#9fb6e6" />
<polygon points="279.0,74.5 302.0,63.5 302.0,82.5 279.0,94.5" fill="#8aa8e2" />
<polygon points="281.0,77.5 300.0,68.0 300.0,80.5 281.0,90.5" fill="#c9d6f3" />
<polygon points="283.0,80.5 298.0,73.0 298.0,74.0 283.0,81.5" fill="#7f9ede" />
<polygon points="283.0,83.1 298.0,75.6 298.0,76.6 283.0,84.1" fill="#7f9ede" />
<polygon points="283.0,85.7 298.0,78.2 298.0,79.2 283.0,86.7" fill="#7f9ede" />
<polygon points="283.0,88.3 298.0,80.8 298.0,81.8 283.0,89.3" fill="#7f9ede" />
<ellipse cx="276.0" cy="106.0" rx="7.0" ry="3.0" fill="#cfd0de" />
<polygon points="270.0,92.0 281.0,92.0 283.0,99.0 280.0,105.0 282.0,106.5 277.0,107.0 277.0,100.0 272.0,99.0" fill="#2a3f7a" />
<path d="M266.5,93 l0,-8 q0,-4 4,-4 l1.5,0 q4,0 4,4 l0,8 z" fill="#2fae8f"/>
<polygon points="274.0,85.0 281.0,89.0 280.0,91.0 273.0,88.0" fill="#2fae8f" />
<circle cx="271.3" cy="78.8" r="2.9" fill="#f0c29c" />
<path d="M268.2,79.5 a3.2,3.2 0 0 1 6.3,-1.5 l-1.5,-0.3 l-3,2.5 l-0.5,4 l-1.3,-0.5 z" fill="#3b2418"/>
<ellipse cx="280.0" cy="107.0" rx="2.0" ry="0.9" fill="#3d7fd0" />
<polygon points="314.0,151.0 346.0,134.0 375.0,150.0 345.0,164.0" fill="#b4b5c8" />
<polygon points="312.0,138.8 327.0,147.0 327.0,156.0 312.0,147.8" fill="#2585b3" />
<polygon points="327.0,147.0 358.0,129.9 358.0,138.9 327.0,156.0" fill="#17668e" />
<polygon points="312.0,138.8 343.0,121.7 350.5,117.8 319.5,134.9" fill="#a6dcf2" />
<polygon points="327.0,147.0 358.0,129.9 350.5,117.8 319.5,134.9" fill="#6fc0e4" />
<polygon points="312.0,138.8 327.0,147.0 319.5,134.9" fill="#2585b3" />
<polygon points="313.5,146.5 325.5,153.0 325.5,152.0 313.5,145.5" fill="#8fd3f0" />
<polygon points="313.5,143.9 325.5,150.4 325.5,149.4 313.5,142.9" fill="#8fd3f0" />
<polygon points="313.5,141.3 325.5,147.8 325.5,146.8 313.5,140.3" fill="#8fd3f0" />
<polygon points="330.0,150.5 333.0,149.0 333.0,151.0 330.0,152.5" fill="#0f4e6e" />
<polygon points="335.5,147.5 338.5,146.0 338.5,148.0 335.5,149.5" fill="#0f4e6e" />
<polygon points="341.0,144.5 344.0,143.0 344.0,145.0 341.0,146.5" fill="#0f4e6e" />
<polygon points="346.5,141.5 349.5,140.0 349.5,142.0 346.5,143.5" fill="#0f4e6e" />
<polygon points="352.0,138.5 355.0,137.0 355.0,139.0 352.0,140.5" fill="#0f4e6e" />
<polygon points="329.0,141.0 337.0,136.5 340.0,138.0 332.0,142.5" fill="#d6eef9" />
<polygon points="343.0,130.8 358.0,139.0 358.0,150.0 343.0,141.8" fill="#1f77a3" />
<polygon points="358.0,139.0 368.0,133.5 368.0,144.5 358.0,150.0" fill="#17668e" />
<polygon points="353.0,125.2 368.0,133.5 363.0,127.2 348.0,119.0" fill="#6a7ec8" />
<polygon points="343.0,130.8 358.0,139.0 363.0,127.2 348.0,119.0" fill="#8c9bd8" />
<polygon points="358.0,139.0 368.0,133.5 363.0,127.2" fill="#17668e" />
<rect x="360.0" y="141.0" width="3.0" height="5.0" fill="#e8a23c" />
<rect x="364.5" y="138.5" width="3.0" height="5.0" fill="#e8a23c" />
<polygon points="311.0,131.5 315.5,134.0 315.5,140.0 311.0,137.5" fill="#c98a30" />
<polygon points="315.5,134.0 320.0,131.5 320.0,137.5 315.5,140.0" fill="#b27520" />
<polygon points="311.0,131.5 315.5,134.0 320.0,131.5 315.5,129.1" fill="#e3a54c" />
<rect x="365.0" y="154.1" width="2.1" height="6.9" fill="#7a4a2a" />
<circle cx="363.1" cy="150.7" r="4.8" fill="#6f9a2a" />
<circle cx="368.1" cy="149.5" r="5.1" fill="#8bb13a" />
<circle cx="365.4" cy="146.6" r="4.4" fill="#8bb13a" />
<rect x="299.6" y="147.0" width="0.9" height="3.0" fill="#7a4a2a" />
<circle cx="300.0" cy="145.8" r="2.2" fill="#7fae3a" />
<rect x="303.1" y="149.5" width="0.9" height="3.0" fill="#7a4a2a" />
<circle cx="303.5" cy="148.3" r="2.2" fill="#7fae3a" />
<rect x="306.6" y="152.0" width="0.9" height="3.0" fill="#7a4a2a" />
<circle cx="307.0" cy="150.8" r="2.2" fill="#7fae3a" />
<circle cx="406.5" cy="201.0" r="22.0" fill="#ededf0" />
<rect x="394.0" y="186.0" width="26.6" height="27.6" fill="#4a78c2" />
<rect x="394.0" y="186.0" width="26.6" height="3.0" fill="#8fb3e8" />
<rect x="396.0" y="190.0" width="22.6" height="22.0" fill="#9ab6e4" />
<rect x="401.0" y="196.0" width="12.0" height="14.0" fill="#ffffff" />
<rect x="396.0" y="202.0" width="5.0" height="1.0" fill="#c0392b" />
<rect x="413.0" y="202.0" width="5.0" height="1.0" fill="#c0392b" />
<rect x="403.5" y="199.0" width="7.0" height="1.2" fill="#333" />
<rect x="403.5" y="202.5" width="7.0" height="1.2" fill="#333" />
<rect x="404.0" y="206.0" width="6.0" height="1.0" fill="#333" />
<polygon points="434.0,159.2 441.0,163.0 441.0,190.0 434.0,186.2" fill="#b65d4c" />
<polygon points="441.0,163.0 454.0,155.8 454.0,182.8 441.0,190.0" fill="#cf7766" />
<polygon points="434.0,159.2 441.0,163.0 454.0,155.8 447.0,152.0" fill="#e4e4e6" />
<polygon points="434.9,166.9 436.6,167.8 436.6,165.5 434.9,164.5" fill="#8b5048" />
<polygon points="438.4,168.8 440.1,169.8 440.1,167.4 438.4,166.4" fill="#8b5048" />
<polygon points="434.9,171.2 436.6,172.1 436.6,169.8 434.9,168.8" fill="#8b5048" />
<polygon points="438.4,173.1 440.1,174.1 440.1,171.7 438.4,170.7" fill="#8b5048" />
<polygon points="434.9,175.5 436.6,176.5 436.6,174.1 434.9,173.1" fill="#8b5048" />
<polygon points="438.4,177.4 440.1,178.4 440.1,176.0 438.4,175.1" fill="#8b5048" />
<polygon points="434.9,179.8 436.6,180.8 436.6,178.4 434.9,177.5" fill="#8b5048" />
<polygon points="438.4,181.8 440.1,182.7 440.1,180.3 438.4,179.4" fill="#8b5048" />
<polygon points="442.6,169.3 445.9,167.6 445.9,165.2 442.6,167.0" fill="#8b5048" />
<polygon points="449.1,165.8 452.4,164.0 452.4,161.6 449.1,163.4" fill="#8b5048" />
<polygon points="442.6,173.7 445.9,171.9 445.9,169.5 442.6,171.3" fill="#8b5048" />
<polygon points="449.1,170.1 452.4,168.3 452.4,165.9 449.1,167.7" fill="#8b5048" />
<polygon points="442.6,178.0 445.9,176.2 445.9,173.8 442.6,175.6" fill="#8b5048" />
<polygon points="449.1,174.4 452.4,172.6 452.4,170.2 449.1,172.0" fill="#8b5048" />
<polygon points="442.6,182.3 445.9,180.5 445.9,178.1 442.6,179.9" fill="#8b5048" />
<polygon points="449.1,178.7 452.4,176.9 452.4,174.6 449.1,176.4" fill="#8b5048" />
<polygon points="459.0,171.2 466.0,175.0 466.0,200.0 459.0,196.2" fill="#b65d4c" />
<polygon points="466.0,175.0 476.0,169.5 476.0,194.5 466.0,200.0" fill="#cf7766" />
<polygon points="459.0,171.2 466.0,175.0 476.0,169.5 469.0,165.7" fill="#e4e4e6" />
<polygon points="459.9,178.3 461.6,179.3 461.6,177.1 459.9,176.1" fill="#8b5048" />
<polygon points="463.4,180.3 465.1,181.2 465.1,179.0 463.4,178.1" fill="#8b5048" />
<polygon points="459.9,182.3 461.6,183.3 461.6,181.1 459.9,180.1" fill="#8b5048" />
<polygon points="463.4,184.3 465.1,185.2 465.1,183.0 463.4,182.1" fill="#8b5048" />
<polygon points="459.9,186.3 461.6,187.3 461.6,185.1 459.9,184.1" fill="#8b5048" />
<polygon points="463.4,188.3 465.1,189.2 465.1,187.0 463.4,186.1" fill="#8b5048" />
<polygon points="459.9,190.3 461.6,191.3 461.6,189.1 459.9,188.1" fill="#8b5048" />
<polygon points="463.4,192.3 465.1,193.2 465.1,191.0 463.4,190.1" fill="#8b5048" />
<polygon points="467.2,181.0 469.8,179.6 469.8,177.4 467.2,178.8" fill="#8b5048" />
<polygon points="472.2,178.3 474.8,176.9 474.8,174.7 472.2,176.1" fill="#8b5048" />
<polygon points="467.2,185.0 469.8,183.6 469.8,181.4 467.2,182.8" fill="#8b5048" />
<polygon points="472.2,182.3 474.8,180.9 474.8,178.7 472.2,180.1" fill="#8b5048" />
<polygon points="467.2,189.0 469.8,187.6 469.8,185.4 467.2,186.8" fill="#8b5048" />
<polygon points="472.2,186.3 474.8,184.9 474.8,182.7 472.2,184.1" fill="#8b5048" />
<polygon points="467.2,193.0 469.8,191.6 469.8,189.4 467.2,190.8" fill="#8b5048" />
<polygon points="472.2,190.3 474.8,188.9 474.8,186.7 472.2,188.1" fill="#8b5048" />
<polygon points="444.0,182.8 458.0,190.5 458.0,214.5 444.0,206.8" fill="#b35a4a" />
<polygon points="458.0,190.5 476.0,180.6 476.0,204.6 458.0,214.5" fill="#d07a68" />
<polygon points="444.0,182.8 458.0,190.5 476.0,180.6 462.0,172.9" fill="#e8e8ea" />
<polygon points="445.2,189.9 447.5,191.2 447.5,189.0 445.2,187.8" fill="#8b5048" />
<polygon points="449.8,192.4 452.2,193.7 452.2,191.6 449.8,190.3" fill="#8b5048" />
<polygon points="454.5,195.0 456.8,196.3 456.8,194.2 454.5,192.9" fill="#8b5048" />
<polygon points="445.2,193.7 447.5,195.0 447.5,192.9 445.2,191.6" fill="#8b5048" />
<polygon points="449.8,196.3 452.2,197.6 452.2,195.5 449.8,194.2" fill="#8b5048" />
<polygon points="454.5,198.8 456.8,200.1 456.8,198.0 454.5,196.7" fill="#8b5048" />
<polygon points="445.2,197.6 447.5,198.8 447.5,196.7 445.2,195.4" fill="#8b5048" />
<polygon points="449.8,200.1 452.2,201.4 452.2,199.3 449.8,198.0" fill="#8b5048" />
<polygon points="454.5,202.7 456.8,204.0 456.8,201.9 454.5,200.6" fill="#8b5048" />
<polygon points="445.2,201.4 447.5,202.7 447.5,200.6 445.2,199.3" fill="#8b5048" />
<polygon points="449.8,204.0 452.2,205.2 452.2,203.1 449.8,201.8" fill="#8b5048" />
<polygon points="454.5,206.5 456.8,207.8 456.8,205.7 454.5,204.4" fill="#8b5048" />
<polygon points="459.5,196.1 462.5,194.5 462.5,192.3 459.5,194.0" fill="#8b5048" />
<polygon points="465.5,192.8 468.5,191.2 468.5,189.0 465.5,190.7" fill="#8b5048" />
<polygon points="471.5,189.5 474.5,187.9 474.5,185.7 471.5,187.4" fill="#8b5048" />
<polygon points="459.5,199.9 462.5,198.3 462.5,196.2 459.5,197.8" fill="#8b5048" />
<polygon points="465.5,196.6 468.5,195.0 468.5,192.9 465.5,194.5" fill="#8b5048" />
<polygon points="471.5,193.3 474.5,191.7 474.5,189.6 471.5,191.2" fill="#8b5048" />
<polygon points="459.5,203.8 462.5,202.1 462.5,200.0 459.5,201.7" fill="#8b5048" />
<polygon points="465.5,200.5 468.5,198.8 468.5,196.7 465.5,198.4" fill="#8b5048" />
<polygon points="471.5,197.2 474.5,195.5 474.5,193.4 471.5,195.1" fill="#8b5048" />
<polygon points="459.5,207.6 462.5,206.0 462.5,203.9 459.5,205.5" fill="#8b5048" />
<polygon points="465.5,204.3 468.5,202.7 468.5,200.6 465.5,202.2" fill="#8b5048" />
<polygon points="471.5,201.0 474.5,199.4 474.5,197.3 471.5,198.9" fill="#8b5048" />
<rect x="426.6" y="174.7" width="2.8" height="9.3" fill="#6b3f22" />
<circle cx="424.1" cy="170.1" r="6.5" fill="#6c8a22" />
<circle cx="430.8" cy="168.5" r="6.8" fill="#86a52e" />
<circle cx="427.2" cy="164.6" r="5.9" fill="#86a52e" />
<polygon points="501.0,261.0 532.0,278.0 562.0,262.0 531.0,246.0" fill="#c9cad8" />
<polygon points="505.0,259.0 530.0,273.0 546.0,265.0 521.0,251.0" fill="#bcd3f0" />
<polygon points="511.0,261.0 526.0,269.5 526.0,270.3 511.0,261.8" fill="#7d9fdc" />
<polygon points="513.5,259.8 528.5,268.3 528.5,269.1 513.5,260.6" fill="#7d9fdc" />
<polygon points="516.0,258.6 531.0,267.1 531.0,267.9 516.0,259.4" fill="#7d9fdc" />
<polygon points="518.5,257.4 533.5,265.9 533.5,266.7 518.5,258.2" fill="#7d9fdc" />
<polygon points="529.0,232.0 568.0,221.0 571.0,252.0 530.0,274.0" fill="#a4c1e8" />
<polygon points="529.0,232.0 568.0,221.0 569.0,224.0 529.0,235.0" fill="#7d9fdc" />
<polygon points="532.0,235.0 565.0,225.0 565.0,227.0 532.0,237.0" fill="#e8f0fb" />
<rect x="521.0" y="238.0" width="2.3" height="18.0" fill="#23407a" />
<rect x="524.5" y="238.0" width="2.3" height="18.0" fill="#23407a" />
<rect x="520" y="226" width="8" height="13" rx="2" fill="#3e9ad6"/>
<polygon points="527.0,228.0 532.0,218.0 534.0,219.0 529.0,230.0" fill="#3e9ad6" />
<polygon points="520.0,229.0 513.0,226.0 513.0,224.5 521.0,227.0" fill="#3e9ad6" />
<circle cx="523.5" cy="222.5" r="3.0" fill="#f0c29c" />
<path d="M520.3,222 a3.3,3.3 0 0 1 6.5,0 z" fill="#3b2418"/>
<polygon points="596.0,299.0 624.0,314.0 650.0,300.0 622.0,286.0" fill="#c8c9d8" />
<polygon points="602.1,286.7 622.6,298.0 622.6,315.0 602.1,303.7" fill="#a7bfe8" />
<polygon points="622.6,298.0 640.6,288.1 640.6,305.1 622.6,315.0" fill="#c4c6d8" />
<polygon points="602.1,286.7 622.6,298.0 640.6,288.1 620.1,276.8" fill="#dfeaf7" />
<polygon points="617.5,262.0 635.0,258.0 635.0,278.0 618.0,282.0" fill="#c8d8f0" />
<polygon points="619.0,264.0 633.5,260.5 633.5,276.0 619.0,279.5" fill="#6f96d8" />
<polygon points="621.0,267.0 632.0,264.0 632.0,265.0 621.0,268.0" fill="#c9d8f3" />
<polygon points="621.0,270.5 632.0,267.5 632.0,268.5 621.0,271.5" fill="#c9d8f3" />
<polygon points="621.0,274.0 632.0,271.0 632.0,272.0 621.0,275.0" fill="#c9d8f3" />
<polygon points="623.0,285.0 633.0,280.0 637.0,282.0 627.0,287.0" fill="#c9d8f3" />
<path d="M610,285 h5 l1,-4 h-7 z" fill="#7d9fdc"/>
<path d="M612,282 l-3,-8 l3,5 l1,-7 l1,7 l2,-5 l-1,8 z" fill="#39a36e"/>
<rect x="646" y="277" width="13" height="27" rx="3" fill="#c8d8f0"/>
<polygon points="648.0,292.0 660.0,286.0 661.0,298.0 649.0,304.0" fill="#eef3fb" />
<rect x="650.5" y="304.0" width="2.5" height="7.0" fill="#c8d8f0" />
<ellipse cx="651.5" cy="312.0" rx="5.5" ry="2.2" fill="#ffffff" stroke="#c8d0e6" stroke-width="0.6"/>
<ellipse cx="653.0" cy="314.0" rx="9.0" ry="3.5" fill="#d9d9e3" />
<path d="M642,279 q5,-3 9,2 l1,12 q-6,2 -11,-1 z" fill="#36b08e"/>
<polygon points="642.0,283.0 633.0,285.0 632.0,287.0 642.0,286.0" fill="#36b08e" />
<polygon points="641.0,291.0 650.0,292.0 648.0,296.0 638.0,296.0 636.0,308.0 633.0,308.0 634.0,293.0" fill="#23407a" />
<ellipse cx="634.0" cy="308.5" rx="2.2" ry="1.0" fill="#3d7fd0" />
<circle cx="645.5" cy="274.5" r="3.0" fill="#f0c29c" />
<path d="M642.5,274 a3.3,3.3 0 0 1 6.5,0 l0.5,8 l-2,-1 l-1,-6 z" fill="#3b2418"/>
<ellipse cx="416.4" cy="318.5" rx="9.2" ry="4.2" fill="#c9cad8" />
<ellipse cx="465.0" cy="312.5" rx="8.5" ry="3.8" fill="#c9cad8" />
<polygon points="410.0,262.0 436.0,250.0 436.0,283.0 410.0,296.0" fill="#c6d5f2" />
<polygon points="412.0,265.0 420.0,261.0 420.0,290.0 412.0,294.0" fill="#5b8fd6" />
<polygon points="414.0,267.0 419.0,264.5 419.0,286.0 414.0,288.5" fill="#8fb2e6" />
<polygon points="426.0,272.0 462.5,259.0 462.5,294.0 426.0,316.0" fill="#edf3fc" />
<polygon points="426.0,272.0 462.5,259.0 462.5,261.5 426.0,274.5" fill="#6b9be0" />
<polygon points="432.0,283.0 458.0,273.0 458.0,274.0 432.0,284.0" fill="#b9cdef" />
<polygon points="432.0,289.0 458.0,279.0 458.0,280.0 432.0,290.0" fill="#b9cdef" />
<polygon points="432.0,295.0 458.0,285.0 458.0,286.0 432.0,296.0" fill="#b9cdef" />
<polygon points="432.0,301.0 458.0,291.0 458.0,292.0 432.0,302.0" fill="#b9cdef" />
<ellipse cx="441.8" cy="287.0" rx="7.5" ry="11.0" fill="none" stroke="#3f6fc4" stroke-width="3" transform="rotate(20 441.8 287)"/>
<polygon points="418.0,303.0 436.0,293.0 437.5,296.0 419.5,306.0" fill="#3f6fc4" />
<polygon points="430.0,296.0 435.0,293.0 436.5,295.5 431.5,298.5" fill="#b0733a" />
<rect x="438.5" y="251.5" width="6" height="6.5" rx="1.5" fill="#f2a93a"/>
<polygon points="414.1,303.7 416.9,303.7 416.4,318.4 414.4,318.4" fill="#22407c" />
<polygon points="417.1,303.7 419.9,303.7 419.6,318.4 417.6,318.4" fill="#22407c" />
<rect x="413.4" y="291.8" width="7.3" height="13.0" rx="2.3" fill="#2fae8f"/>
<circle cx="417.0" cy="288.9" r="2.9" fill="#f0c29c" />
<path d="M413.8,288.9 a3.2,3.2 0 0 1 6.3,0 z" fill="#3b2418"/>
<path d="M414.5,289.5 q2.5,4.0 5.0,0 z" fill="#3b2418"/>
<ellipse cx="415.3" cy="319.0" rx="1.8" ry="0.9" fill="#3d7fd0" />
<ellipse cx="418.7" cy="319.0" rx="1.8" ry="0.9" fill="#3d7fd0" />
<polygon points="419.0,296.0 425.0,300.0 424.0,302.0 418.0,299.0" fill="#2fae8f" />
<polygon points="463.0,296.2 465.9,296.2 465.4,311.4 463.3,311.4" fill="#22407c" />
<polygon points="466.1,296.2 469.0,296.2 468.7,311.4 466.6,311.4" fill="#22407c" />
<rect x="462.3" y="284.0" width="7.5" height="13.4" rx="2.3" fill="#2fae8f"/>
<circle cx="466.0" cy="281.0" r="3.0" fill="#f0c29c" />
<path d="M462.7,281.0 a3.3,3.3 0 0 1 6.5,0 z" fill="#3b2418"/>
<ellipse cx="464.2" cy="312.0" rx="1.9" ry="0.9" fill="#3d7fd0" />
<ellipse cx="467.8" cy="312.0" rx="1.9" ry="0.9" fill="#3d7fd0" />
<polygon points="463.0,285.0 456.0,289.0 457.0,291.0 464.0,288.0" fill="#2fae8f" />
<polygon points="534.2,328.3 549.4,336.7 549.4,363.7 534.2,355.3" fill="#e89a9a" />
<polygon points="549.4,336.7 562.4,329.6 562.4,356.6 549.4,363.7" fill="#d96e6e" />
<polygon points="534.2,328.3 549.4,336.7 562.4,329.6 547.2,321.2" fill="#f2b8b8" />
<polygon points="536.1,336.6 539.9,338.7 539.9,336.3 536.1,334.2" fill="#7a9cc0" />
<polygon points="543.7,340.8 547.5,342.9 547.5,340.5 543.7,338.4" fill="#7a9cc0" />
<polygon points="536.1,340.9 539.9,343.0 539.9,340.7 536.1,338.6" fill="#7a9cc0" />
<polygon points="543.7,345.1 547.5,347.2 547.5,344.8 543.7,342.7" fill="#7a9cc0" />
<polygon points="536.1,345.3 539.9,347.4 539.9,345.0 536.1,342.9" fill="#7a9cc0" />
<polygon points="543.7,349.4 547.5,351.5 547.5,349.2 543.7,347.1" fill="#7a9cc0" />
<polygon points="536.1,349.6 539.9,351.7 539.9,349.3 536.1,347.2" fill="#7a9cc0" />
<polygon points="543.7,353.8 547.5,355.9 547.5,353.5 543.7,351.4" fill="#7a9cc0" />
<polygon points="551.0,343.0 554.3,341.3 554.3,338.9 551.0,340.7" fill="#7a9cc0" />
<polygon points="557.5,339.5 560.8,337.7 560.8,335.3 557.5,337.1" fill="#7a9cc0" />
<polygon points="551.0,347.4 554.3,345.6 554.3,343.2 551.0,345.0" fill="#7a9cc0" />
<polygon points="557.5,343.8 560.8,342.0 560.8,339.6 557.5,341.4" fill="#7a9cc0" />
<polygon points="551.0,351.7 554.3,349.9 554.3,347.5 551.0,349.3" fill="#7a9cc0" />
<polygon points="557.5,348.1 560.8,346.3 560.8,343.9 557.5,345.7" fill="#7a9cc0" />
<polygon points="551.0,356.0 554.3,354.2 554.3,351.8 551.0,353.6" fill="#7a9cc0" />
<polygon points="557.5,352.4 560.8,350.6 560.8,348.3 557.5,350.1" fill="#7a9cc0" />
<polygon points="534.2,349.3 549.4,357.7 549.4,363.7 534.2,355.3" fill="#d95050" />
<polygon points="549.4,357.7 562.4,350.6 562.4,356.6 549.4,363.7" fill="#c24444" />
<polygon points="534.2,342.3 549.4,350.7 549.4,351.7 534.2,343.3" fill="#d45a5a" />
<polygon points="549.4,350.7 562.4,343.6 562.4,344.6 549.4,351.7" fill="#c24444" />
<polygon points="534.2,335.3 549.4,343.7 549.4,344.7 534.2,336.3" fill="#d45a5a" />
<polygon points="549.4,343.7 562.4,336.6 562.4,337.6 549.4,344.7" fill="#c24444" />
<polygon points="556.0,352.7 570.0,360.4 570.0,374.4 556.0,366.7" fill="#cfe3ef" />
<polygon points="570.0,360.4 586.0,351.6 586.0,365.6 570.0,374.4" fill="#a8cfe0" />
<polygon points="556.0,352.7 570.0,360.4 586.0,351.6 572.0,343.9" fill="#d9d9d9" />
<polygon points="557.2,358.3 559.5,359.6 559.5,357.1 557.2,355.9" fill="#4f7fa8" />
<polygon points="561.8,360.9 564.2,362.2 564.2,359.7 561.8,358.4" fill="#4f7fa8" />
<polygon points="566.5,363.5 568.8,364.7 568.8,362.3 566.5,361.0" fill="#4f7fa8" />
<polygon points="557.2,362.8 559.5,364.1 559.5,361.6 557.2,360.3" fill="#4f7fa8" />
<polygon points="561.8,365.4 564.2,366.7 564.2,364.2 561.8,362.9" fill="#4f7fa8" />
<polygon points="566.5,367.9 568.8,369.2 568.8,366.8 566.5,365.5" fill="#4f7fa8" />
<polygon points="571.3,364.7 574.0,363.2 574.0,360.7 571.3,362.2" fill="#4f7fa8" />
<polygon points="576.7,361.7 579.3,360.3 579.3,357.8 576.7,359.3" fill="#4f7fa8" />
<polygon points="582.0,358.8 584.7,357.3 584.7,354.9 582.0,356.3" fill="#4f7fa8" />
<polygon points="571.3,369.1 574.0,367.7 574.0,365.2 571.3,366.7" fill="#4f7fa8" />
<polygon points="576.7,366.2 579.3,364.7 579.3,362.3 576.7,363.7" fill="#4f7fa8" />
<polygon points="582.0,363.3 584.7,361.8 584.7,359.3 582.0,360.8" fill="#4f7fa8" />
<polygon points="553.0,366.0 568.0,374.0 571.0,372.0 556.0,364.0" fill="#ffffff" />
<polygon points="552.0,368.0 566.0,376.0 570.0,374.0 556.0,366.0" fill="#9ecb55" />
<rect x="521.6" y="344.7" width="2.8" height="9.3" fill="#7a4a2a" />
<circle cx="519.1" cy="340.1" r="6.5" fill="#6f9228" />
<circle cx="525.8" cy="338.5" r="6.8" fill="#88aa3a" />
<circle cx="522.2" cy="334.6" r="5.9" fill="#88aa3a" />
<circle cx="536.4" cy="397.0" r="26.0" fill="#efeff3" />
<polygon points="536.0,397.7 545.0,402.6 545.0,414.6 536.0,409.7" fill="#5c6f82" />
<polygon points="545.0,402.6 555.0,397.1 555.0,409.1 545.0,414.6" fill="#4a5c6e" />
<polygon points="536.0,397.7 545.0,402.6 555.0,397.1 546.0,392.2" fill="#6e8296" />
<rect x="529.0" y="396.0" width="14.0" height="7.0" fill="#1e1e24" />
<polygon points="523.1,398.7 525.9,398.7 525.4,413.4 523.4,413.4" fill="#2f6cb8" />
<polygon points="526.1,398.7 528.9,398.7 528.6,413.4 526.6,413.4" fill="#2f6cb8" />
<rect x="522.4" y="386.8" width="7.3" height="13.0" rx="2.3" fill="#2f6cb8"/>
<circle cx="526.0" cy="383.9" r="2.9" fill="#f0c29c" />
<path d="M522.8,383.9 a3.2,3.2 0 0 1 6.3,0 z" fill="#d9d9de"/>
<ellipse cx="524.3" cy="414.0" rx="1.8" ry="0.9" fill="#3d7fd0" />
<ellipse cx="527.7" cy="414.0" rx="1.8" ry="0.9" fill="#3d7fd0" />
<polygon points="527.0,396.0 534.0,399.0 533.0,401.0 526.0,398.0" fill="#2f6cb8" />
<polygon points="548.9,396.8 551.9,396.8 551.4,412.4 549.2,412.4" fill="#2f6cb8" />
<polygon points="552.1,396.8 555.1,396.8 554.8,412.4 552.6,412.4" fill="#2f6cb8" />
<rect x="548.2" y="384.2" width="7.7" height="13.8" rx="2.4" fill="#2f6cb8"/>
<circle cx="552.0" cy="381.1" r="3.1" fill="#f0c29c" />
<path d="M548.6,381.1 a3.4,3.4 0 0 1 6.7,0 z" fill="#6b3a22"/>
<ellipse cx="550.2" cy="413.0" rx="1.9" ry="1.0" fill="#3d7fd0" />
<ellipse cx="553.8" cy="413.0" rx="1.9" ry="1.0" fill="#3d7fd0" />
<polygon points="549.0,396.0 542.0,399.0 543.0,401.0 550.0,398.0" fill="#2f6cb8" />
<polygon points="450.0,452.0 488.0,436.0 470.0,426.0 440.0,440.0" fill="#c9cbe0" />
<polygon points="431.7,377.5 445.7,385.2 445.7,407.2 431.7,399.5" fill="#4e6f95" />
<polygon points="445.7,385.2 459.7,377.5 459.7,399.5 445.7,407.2" fill="#3a5578" />
<polygon points="431.7,377.5 445.7,385.2 459.7,377.5 445.7,369.8" fill="#d5d5da" />
<polygon points="431.7,380.5 445.7,388.2 459.7,380.5 459.7,381.9 445.7,389.6 431.7,381.9" fill="#7590b3" />
<polygon points="431.7,384.2 445.7,391.9 459.7,384.2 459.7,385.6 445.7,393.3 431.7,385.6" fill="#7590b3" />
<polygon points="431.7,387.9 445.7,395.6 459.7,387.9 459.7,389.3 445.7,397.0 431.7,389.3" fill="#7590b3" />
<polygon points="431.7,391.6 445.7,399.3 459.7,391.6 459.7,393.0 445.7,400.7 431.7,393.0" fill="#7590b3" />
<polygon points="431.7,395.3 445.7,403.0 459.7,395.3 459.7,396.7 445.7,404.4 431.7,396.7" fill="#7590b3" />
<polygon points="419.0,432.8 434.0,441.0 434.0,447.0 419.0,438.8" fill="#dcdfe4" />
<polygon points="434.0,441.0 448.0,433.3 448.0,439.3 434.0,447.0" fill="#c4c8cf" />
<polygon points="419.0,432.8 434.0,441.0 448.0,433.3 433.0,425.1" fill="#e6e8ec" />
<polygon points="420.2,436.6 422.8,437.9 422.8,436.6 420.2,435.2" fill="#8a9bb0" />
<polygon points="425.2,439.3 427.8,440.7 427.8,439.4 425.2,438.0" fill="#8a9bb0" />
<polygon points="430.2,442.1 432.8,443.4 432.8,442.1 430.2,440.7" fill="#8a9bb0" />
<polygon points="435.2,443.5 437.5,442.2 437.5,440.9 435.2,442.2" fill="#8a9bb0" />
<polygon points="439.8,440.9 442.2,439.6 442.2,438.3 439.8,439.6" fill="#8a9bb0" />
<polygon points="444.5,438.3 446.8,437.1 446.8,435.7 444.5,437.0" fill="#8a9bb0" />
<polygon points="419.0,403.8 434.0,412.0 434.0,441.0 419.0,432.8" fill="#8ec3dd" />
<polygon points="434.0,412.0 448.0,404.3 448.0,433.3 434.0,441.0" fill="#6fa9c6" />
<polygon points="419.0,403.8 434.0,412.0 448.0,404.3 433.0,396.1" fill="#d7d7dc" />
<polygon points="420.9,412.0 424.6,414.1 424.6,412.1 420.9,410.0" fill="#3e6f95" />
<polygon points="428.4,416.2 432.1,418.2 432.1,416.2 428.4,414.1" fill="#3e6f95" />
<polygon points="420.9,415.8 424.6,417.8 424.6,415.8 420.9,413.7" fill="#3e6f95" />
<polygon points="428.4,419.9 432.1,421.9 432.1,419.9 428.4,417.8" fill="#3e6f95" />
<polygon points="420.9,419.5 424.6,421.5 424.6,419.5 420.9,417.4" fill="#3e6f95" />
<polygon points="428.4,423.6 432.1,425.7 432.1,423.6 428.4,421.6" fill="#3e6f95" />
<polygon points="420.9,423.2 424.6,425.2 424.6,423.2 420.9,421.1" fill="#3e6f95" />
<polygon points="428.4,427.3 432.1,429.4 432.1,427.3 428.4,425.3" fill="#3e6f95" />
<polygon points="420.9,426.9 424.6,429.0 424.6,426.9 420.9,424.8" fill="#3e6f95" />
<polygon points="428.4,431.0 432.1,433.1 432.1,431.0 428.4,429.0" fill="#3e6f95" />
<polygon points="435.8,418.3 439.2,416.4 439.2,414.3 435.8,416.3" fill="#3e6f95" />
<polygon points="442.8,414.4 446.2,412.5 446.2,410.5 442.8,412.4" fill="#3e6f95" />
<polygon points="435.8,422.0 439.2,420.1 439.2,418.0 435.8,420.0" fill="#3e6f95" />
<polygon points="442.8,418.2 446.2,416.2 446.2,414.2 442.8,416.1" fill="#3e6f95" />
<polygon points="435.8,425.7 439.2,423.8 439.2,421.8 435.8,423.7" fill="#3e6f95" />
<polygon points="442.8,421.9 446.2,419.9 446.2,417.9 442.8,419.8" fill="#3e6f95" />
<polygon points="435.8,429.4 439.2,427.5 439.2,425.5 435.8,427.4" fill="#3e6f95" />
<polygon points="442.8,425.6 446.2,423.7 446.2,421.6 442.8,423.5" fill="#3e6f95" />
<polygon points="435.8,433.1 439.2,431.2 439.2,429.2 435.8,431.1" fill="#3e6f95" />
<polygon points="442.8,429.3 446.2,427.4 446.2,425.3 442.8,427.3" fill="#3e6f95" />
<polygon points="448.0,432.9 461.0,440.0 461.0,446.0 448.0,438.9" fill="#dcdfe4" />
<polygon points="461.0,440.0 475.0,432.3 475.0,438.3 461.0,446.0" fill="#c4c8cf" />
<polygon points="448.0,432.9 461.0,440.0 475.0,432.3 462.0,425.2" fill="#e6e8ec" />
<polygon points="449.1,436.6 451.2,437.8 451.2,436.4 449.1,435.2" fill="#8a9bb0" />
<polygon points="453.4,438.9 455.6,440.1 455.6,438.8 453.4,437.6" fill="#8a9bb0" />
<polygon points="457.8,441.3 459.9,442.5 459.9,441.2 457.8,440.0" fill="#8a9bb0" />
<polygon points="462.2,442.5 464.5,441.2 464.5,439.9 462.2,441.2" fill="#8a9bb0" />
<polygon points="466.8,439.9 469.2,438.6 469.2,437.3 466.8,438.6" fill="#8a9bb0" />
<polygon points="471.5,437.3 473.8,436.1 473.8,434.7 471.5,436.0" fill="#8a9bb0" />
<polygon points="448.0,403.9 461.0,411.0 461.0,440.0 448.0,432.9" fill="#e8d8b8" />
<polygon points="461.0,411.0 475.0,403.3 475.0,432.3 461.0,440.0" fill="#cdbb94" />
<polygon points="448.0,403.9 461.0,411.0 475.0,403.3 462.0,396.2" fill="#dcdad2" />
<polygon points="449.6,412.0 452.9,413.8 452.9,411.8 449.6,410.0" fill="#6f8090" />
<polygon points="456.1,415.6 459.4,417.4 459.4,415.3 456.1,413.5" fill="#6f8090" />
<polygon points="449.6,415.7 452.9,417.5 452.9,415.5 449.6,413.7" fill="#6f8090" />
<polygon points="456.1,419.3 459.4,421.1 459.4,419.0 456.1,417.3" fill="#6f8090" />
<polygon points="449.6,419.4 452.9,421.2 452.9,419.2 449.6,417.4" fill="#6f8090" />
<polygon points="456.1,423.0 459.4,424.8 459.4,422.8 456.1,421.0" fill="#6f8090" />
<polygon points="449.6,423.1 452.9,424.9 452.9,422.9 449.6,421.1" fill="#6f8090" />
<polygon points="456.1,426.7 459.4,428.5 459.4,426.5 456.1,424.7" fill="#6f8090" />
<polygon points="449.6,426.9 452.9,428.6 452.9,426.6 449.6,424.8" fill="#6f8090" />
<polygon points="456.1,430.4 459.4,432.2 459.4,430.2 456.1,428.4" fill="#6f8090" />
<polygon points="462.8,417.3 466.2,415.4 466.2,413.3 462.8,415.3" fill="#6f8090" />
<polygon points="469.8,413.4 473.2,411.5 473.2,409.5 469.8,411.4" fill="#6f8090" />
<polygon points="462.8,421.0 466.2,419.1 466.2,417.0 462.8,419.0" fill="#6f8090" />
<polygon points="469.8,417.2 473.2,415.2 473.2,413.2 469.8,415.1" fill="#6f8090" />
<polygon points="462.8,424.7 466.2,422.8 466.2,420.8 462.8,422.7" fill="#6f8090" />
<polygon points="469.8,420.9 473.2,418.9 473.2,416.9 469.8,418.8" fill="#6f8090" />
<polygon points="462.8,428.4 466.2,426.5 466.2,424.5 462.8,426.4" fill="#6f8090" />
<polygon points="469.8,424.6 473.2,422.7 473.2,420.6 469.8,422.5" fill="#6f8090" />
<polygon points="462.8,432.1 466.2,430.2 466.2,428.2 462.8,430.1" fill="#6f8090" />
<polygon points="469.8,428.3 473.2,426.4 473.2,424.3 469.8,426.3" fill="#6f8090" />
<polygon points="443.0,433.5 453.0,439.0 453.0,452.0 443.0,446.5" fill="#e9ebef" />
<polygon points="453.0,439.0 464.0,432.9 464.0,445.9 453.0,452.0" fill="#c9ccd4" />
<polygon points="443.0,433.5 453.0,439.0 464.0,432.9 454.0,427.4" fill="#dfe2e6" />
<polygon points="443.0,443.5 453.0,449.0 453.0,450.6 443.0,445.1" fill="#d9653a" />
<polygon points="453.0,449.0 464.0,442.9 464.0,444.1 453.0,450.2" fill="#8a9bb0" />
<polygon points="443.0,439.5 453.0,445.0 453.0,446.6 443.0,441.1" fill="#d9653a" />
<polygon points="453.0,445.0 464.0,438.9 464.0,440.1 453.0,446.2" fill="#8a9bb0" />
<polygon points="443.0,435.5 453.0,441.0 453.0,442.6 443.0,437.1" fill="#d9653a" />
<polygon points="453.0,441.0 464.0,434.9 464.0,436.1 453.0,442.2" fill="#8a9bb0" />
<polygon points="435.5,442.0 438.9,442.0 438.3,459.3 435.9,459.3" fill="#2f6cb8" />
<polygon points="439.1,442.0 442.5,442.0 442.1,459.3 439.7,459.3" fill="#2f6cb8" />
<rect x="434.7" y="428.0" width="8.5" height="15.3" rx="2.7" fill="#2f6cb8"/>
<circle cx="439.0" cy="424.5" r="3.5" fill="#f0c29c" />
<path d="M435.3,424.5 a3.7,3.7 0 0 1 7.5,0 z" fill="#3b2418"/>
<ellipse cx="437.0" cy="460.0" rx="2.1" ry="1.1" fill="#3d7fd0" />
<ellipse cx="441.0" cy="460.0" rx="2.1" ry="1.1" fill="#3d7fd0" />
<polygon points="440.0,431.0 449.0,427.0 450.0,431.0 441.0,435.0" fill="#1e1e24" />
<polygon points="310.0,386.0 351.0,365.0 365.0,372.0 324.0,393.0" fill="#e9e5da" />
<polygon points="310.0,381.3 324.0,389.0 324.0,397.0 310.0,389.3" fill="#a6b1bd" />
<polygon points="324.0,389.0 365.0,366.4 365.0,374.4 324.0,397.0" fill="#c3c9d1" />
<polygon points="310.0,381.3 324.0,389.0 365.0,366.4 351.0,358.8" fill="#e9e5da" />
<polygon points="314.0,384.0 355.0,362.0 355.0,350.0 314.0,372.0" fill="#ece8dd" />
<polygon points="311.0,377.4 323.0,384.0 323.0,398.0 311.0,391.4" fill="#a6b1bd" />
<polygon points="323.0,384.0 328.0,381.2 328.0,395.2 323.0,398.0" fill="#c3c9d1" />
<polygon points="311.0,377.4 323.0,384.0 328.0,381.2 316.0,374.6" fill="#e9e5da" />
<polygon points="353.0,359.4 365.0,366.0 365.0,378.0 353.0,371.4" fill="#a6b1bd" />
<polygon points="365.0,366.0 370.0,363.2 370.0,375.2 365.0,378.0" fill="#c3c9d1" />
<polygon points="353.0,359.4 365.0,366.0 370.0,363.2 358.0,356.6" fill="#e9e5da" />
<rect x="322.2" y="365.4" width="7.6" height="11.4" rx="2.4" fill="#e05a5a"/>
<polygon points="323.1,374.9 329.8,374.9 332.6,378.6 333.6,385.3 330.8,385.3 329.8,380.6 325.1,379.1" fill="#3b2f2f" />
<ellipse cx="332.5" cy="385.8" rx="1.9" ry="0.9" fill="#2b2b33" />
<circle cx="326.0" cy="362.5" r="2.8" fill="#f0c29c" />
<path d="M323.0,363.0 a3.0,3.0 0 0 1 6.1,-0.5 l-1,-0.2 l-3,1.5 z" fill="#2b1a14"/>
<circle cx="323.3" cy="360.1" r="1.5" fill="#2b1a14" />
<rect x="334.1" y="367.6" width="6.8" height="10.2" rx="2.1" fill="#1e9fb5"/>
<polygon points="334.9,376.1 340.9,376.1 343.4,379.4 344.3,385.4 341.8,385.4 340.9,381.1 336.6,379.9" fill="#2b2f3b" />
<ellipse cx="343.3" cy="385.8" rx="1.7" ry="0.8" fill="#2b2b33" />
<circle cx="337.5" cy="365.0" r="2.5" fill="#f0c29c" />
<path d="M334.8,365.4 a2.7,2.7 0 0 1 5.4,-0.5 l-1,-0.2 l-3,1.5 z" fill="#2b1a14"/>
<rect x="341.0" y="356.2" width="10.0" height="15.0" rx="3.1" fill="#f2c93a"/>
<polygon points="342.2,368.8 351.0,368.8 354.8,373.8 356.0,382.5 352.2,382.5 351.0,376.2 344.8,374.4" fill="#1f5a8a" />
<ellipse cx="354.5" cy="383.1" rx="2.5" ry="1.1" fill="#2b2b33" />
<circle cx="346.0" cy="352.5" r="3.8" fill="#f0c29c" />
<path d="M342.0,353.1 a4.0,4.0 0 0 1 8.0,-0.5 l-1,-0.2 l-3,1.5 z" fill="#2b2b2b"/>
<polygon points="352.0,378.0 362.0,372.0 361.0,379.0 351.0,384.0" fill="#2b2b33" />
<rect x="369" y="378" width="7" height="9" rx="2" fill="#e87878"/>
<circle cx="372.5" cy="375.5" r="2.8" fill="#f0c29c" />
<path d="M369.5,375.5 a3,3 0 0 1 6,0 z" fill="#8a4a2a"/>
<polygon points="368.0,387.0 378.0,387.0 376.0,391.0 369.0,391.0" fill="#6b4a3a" />
<circle cx="383.0" cy="383.5" r="4.3" fill="#ffffff" stroke="#4a78c8" stroke-width="1"/>
<polygon points="379.0,383.0 387.0,381.0 387.0,384.0 379.0,385.0" fill="#4a78c8" />
<ellipse cx="374.0" cy="394.0" rx="7.0" ry="2.6" fill="#c8803a" />
<circle cx="338.6" cy="402.8" r="19.4" fill="#ffffff" stroke="#e4e4ea" stroke-width="0.8"/>
<path d="M330,420 q-3,-10 2,-16 l2,0 l0,16 z" fill="#e8b48a"/>
<rect x="333.5" y="387" width="14" height="26" rx="2.5" fill="#2a3440"/>
<rect x="335.0" y="391.0" width="11.0" height="18.0" fill="#eae3d3" />
<rect x="336.0" y="392.0" width="9.0" height="3.0" fill="#6aa84f" />
<rect x="336.0" y="400.0" width="9.0" height="4.0" fill="#e8a0a0" />
<path d="M333,413 q6,4 14,-2 l1,4 q-8,6 -16,1 z" fill="#e8b48a"/>
<polygon points="218.0,314.4 230.0,321.0 230.0,333.0 218.0,326.4" fill="#b8604a" />
<polygon points="230.0,321.0 242.0,314.4 242.0,326.4 230.0,333.0" fill="#c9735c" />
<polygon points="218.0,314.4 230.0,321.0 242.0,314.4 230.0,307.8" fill="#c4c4c8" />
<polygon points="219.5,319.6 222.5,321.3 222.5,319.3 219.5,317.6" fill="#d9a090" />
<polygon points="225.5,322.9 228.5,324.6 228.5,322.6 225.5,320.9" fill="#d9a090" />
<polygon points="219.5,323.2 222.5,324.9 222.5,322.9 219.5,321.2" fill="#d9a090" />
<polygon points="225.5,326.5 228.5,328.2 228.5,326.2 225.5,324.5" fill="#d9a090" />
<polygon points="231.5,324.6 234.5,322.9 234.5,320.9 231.5,322.6" fill="#d9a090" />
<polygon points="237.5,321.3 240.5,319.6 240.5,317.6 237.5,319.3" fill="#d9a090" />
<polygon points="231.5,328.2 234.5,326.5 234.5,324.5 231.5,326.2" fill="#d9a090" />
<polygon points="237.5,324.9 240.5,323.2 240.5,321.2 237.5,322.9" fill="#d9a090" />
<polygon points="236.0,313.1 245.0,318.0 245.0,330.0 236.0,325.1" fill="#b8604a" />
<polygon points="245.0,318.0 258.0,310.9 258.0,322.9 245.0,330.0" fill="#c9735c" />
<polygon points="236.0,313.1 245.0,318.0 258.0,310.9 249.0,305.9" fill="#c9c9cd" />
<polygon points="237.1,318.0 239.4,319.3 239.4,317.3 237.1,316.1" fill="#d9a090" />
<polygon points="241.6,320.5 243.9,321.8 243.9,319.8 241.6,318.5" fill="#d9a090" />
<polygon points="237.1,321.6 239.4,322.9 239.4,320.9 237.1,319.7" fill="#d9a090" />
<polygon points="241.6,324.1 243.9,325.4 243.9,323.4 241.6,322.1" fill="#d9a090" />
<polygon points="246.6,321.5 249.9,319.7 249.9,317.7 246.6,319.5" fill="#d9a090" />
<polygon points="253.1,317.9 256.4,316.1 256.4,314.1 253.1,315.9" fill="#d9a090" />
<polygon points="246.6,325.1 249.9,323.3 249.9,321.3 246.6,323.1" fill="#d9a090" />
<polygon points="253.1,321.5 256.4,319.7 256.4,317.7 253.1,319.5" fill="#d9a090" />
<polygon points="230.0,314.7 236.0,318.0 236.0,322.0 230.0,318.7" fill="#b8604a" />
<polygon points="236.0,318.0 244.0,313.6 244.0,317.6 236.0,322.0" fill="#c9735c" />
<polygon points="230.0,314.7 236.0,318.0 244.0,313.6 238.0,310.3" fill="#d0d0d4" />
<polygon points="247.5,301.3 261.5,309.0 261.5,339.0 247.5,331.3" fill="#e8b565" />
<polygon points="261.5,309.0 275.5,301.3 275.5,331.3 261.5,339.0" fill="#d9a455" />
<polygon points="247.5,301.3 261.5,309.0 275.5,301.3 261.5,293.6" fill="#c8c8cc" />
<polygon points="249.2,309.8 252.8,311.7 252.8,309.6 249.2,307.7" fill="#6b8fb8" />
<polygon points="256.2,313.6 259.8,315.5 259.8,313.4 256.2,311.5" fill="#6b8fb8" />
<polygon points="249.2,313.6 252.8,315.5 252.8,313.4 249.2,311.5" fill="#6b8fb8" />
<polygon points="256.2,317.5 259.8,319.4 259.8,317.3 256.2,315.4" fill="#6b8fb8" />
<polygon points="249.2,317.5 252.8,319.4 252.8,317.3 249.2,315.3" fill="#6b8fb8" />
<polygon points="256.2,321.3 259.8,323.2 259.8,321.1 256.2,319.2" fill="#6b8fb8" />
<polygon points="249.2,321.3 252.8,323.2 252.8,321.1 249.2,319.2" fill="#6b8fb8" />
<polygon points="256.2,325.1 259.8,327.1 259.8,325.0 256.2,323.0" fill="#6b8fb8" />
<polygon points="249.2,325.1 252.8,327.1 252.8,324.9 249.2,323.0" fill="#6b8fb8" />
<polygon points="256.2,329.0 259.8,330.9 259.8,328.8 256.2,326.9" fill="#6b8fb8" />
<polygon points="263.2,315.5 266.8,313.6 266.8,311.5 263.2,313.4" fill="#6b8fb8" />
<polygon points="270.2,311.7 273.8,309.8 273.8,307.7 270.2,309.6" fill="#6b8fb8" />
<polygon points="263.2,319.4 266.8,317.5 266.8,315.4 263.2,317.3" fill="#6b8fb8" />
<polygon points="270.2,315.5 273.8,313.6 273.8,311.5 270.2,313.4" fill="#6b8fb8" />
<polygon points="263.2,323.2 266.8,321.3 266.8,319.2 263.2,321.1" fill="#6b8fb8" />
<polygon points="270.2,319.4 273.8,317.5 273.8,315.3 270.2,317.3" fill="#6b8fb8" />
<polygon points="263.2,327.1 266.8,325.1 266.8,323.0 263.2,325.0" fill="#6b8fb8" />
<polygon points="270.2,323.2 273.8,321.3 273.8,319.2 270.2,321.1" fill="#6b8fb8" />
<polygon points="263.2,330.9 266.8,329.0 266.8,326.9 263.2,328.8" fill="#6b8fb8" />
<polygon points="270.2,327.1 273.8,325.1 273.8,323.0 270.2,324.9" fill="#6b8fb8" />
<polygon points="253.0,298.8 258.0,301.5 258.0,304.0 253.0,301.2" fill="#b5b5ba" />
<polygon points="258.0,301.5 264.0,298.2 264.0,300.7 258.0,304.0" fill="#a5a5aa" />
<polygon points="253.0,298.8 258.0,301.5 264.0,298.2 259.0,295.4" fill="#dcdcdf" />
<polygon points="263.0,297.8 267.0,300.0 267.0,302.0 263.0,299.8" fill="#b5b5ba" />
<polygon points="267.0,300.0 272.0,297.2 272.0,299.2 267.0,302.0" fill="#a5a5aa" />
<polygon points="263.0,297.8 267.0,300.0 272.0,297.2 268.0,295.1" fill="#dcdcdf" />
<circle cx="229.2" cy="348.4" r="17.7" fill="#f0f0f3" />
<path d="M218.5,356 q-1,-10 2,-17 q8,-12 17,0 q3,7 2,17 z" fill="#a8352a"/>
<ellipse cx="229.0" cy="345.0" rx="5.2" ry="6.6" fill="#f2c8a2" />
<path d="M222.5,342 a6.6,6.6 0 0 1 13,0" fill="none" stroke="#222" stroke-width="1.2"/>
<rect x="221.5" y="341.5" width="2.2" height="4.0" fill="#222" />
<rect x="234.5" y="341.5" width="2.2" height="4.0" fill="#222" />
<path d="M216.5,364.5 q2,-9 12.5,-10 q10.5,1 12.5,10 z" fill="#a9c8ec"/>
<polygon points="226.0,354.0 229.0,357.0 232.0,354.0" fill="#ffffff" />
<polygon points="219.0,363.0 239.0,363.0 241.0,366.0 217.0,366.0" fill="#c3c3c9" />
<circle cx="271.6" cy="338.6" r="17.7" fill="#ffffff" />
<polygon points="273.0,329.0 284.0,323.0 284.0,345.0 273.0,351.0" fill="#4a5db5" />
<polygon points="275.0,333.0 282.0,329.5 282.0,341.0 275.0,344.5" fill="#e9e2f3" />
<circle cx="278.5" cy="333.0" r="1.8" fill="#e8604a" />
<path d="M262,349 q4,-8 11,-2 q1,5 -2,6 z" fill="#f39c2a"/>
<circle cx="266.0" cy="340.0" r="2.6" fill="#f2c8a2" />
<path d="M263.4,340 a2.6,2.6 0 0 1 5.2,0 z" fill="#1e2a44"/>
<polygon points="266.0,344.0 271.0,343.0 272.0,347.0 267.0,348.0" fill="#f2c93a" />
<polygon points="164.0,266.4 176.0,273.0 176.0,286.0 164.0,279.4" fill="#5aa3d9" />
<polygon points="176.0,273.0 192.0,264.2 192.0,277.2 176.0,286.0" fill="#4a93cf" />
<polygon points="164.0,266.4 176.0,273.0 192.0,264.2 180.0,257.6" fill="#72b6e6" />
<polygon points="178.0,283.0 184.0,279.7 184.0,271.0 178.0,274.3" fill="#3f86c4" />
<polygon points="185.5,279.0 190.5,276.2 190.5,267.5 185.5,270.3" fill="#3f86c4" />
<polygon points="166.0,278.0 173.0,282.0 173.0,273.0 166.0,269.0" fill="#4a93cf" />
<rect x="159.0" y="276.0" width="6.0" height="13.0" fill="#3f8dcc" />
<rect x="131.0" y="260.0" width="2.2" height="12.0" fill="#3065a8" />
<line x1="133" y1="261" x2="156" y2="267.8" stroke="#e85a4a" stroke-width="1.3" stroke-dasharray="1.5 1"/>
<path d="M115,285 l5,-7 q3,-4 8,-5 l9,-1 q4,0 5,3 l0,6 q-1,4 -5,5 l-15,5 q-5,1 -7,-2 z" fill="#f08a25"/>
<polygon points="124.0,278.0 131.0,274.5 138.0,275.0 131.0,279.0" fill="#35518a" />
<circle cx="121.0" cy="290.0" r="1.8" fill="#555" />
<circle cx="139.0" cy="284.0" r="1.8" fill="#555" />
<polygon points="149.7,281.9 151.9,281.9 151.6,293.6 149.9,293.6" fill="#222222" />
<polygon points="152.1,281.9 154.3,281.9 154.1,293.6 152.4,293.6" fill="#222222" />
<rect x="149.1" y="272.4" width="5.8" height="10.3" rx="1.8" fill="#3f7fcf"/>
<circle cx="152.0" cy="270.1" r="2.3" fill="#f0c29c" />
<path d="M149.5,270.1 a2.5,2.5 0 0 1 5.0,0 z" fill="#1e2a44"/>
<ellipse cx="150.7" cy="294.0" rx="1.4" ry="0.7" fill="#3d7fd0" />
<ellipse cx="153.3" cy="294.0" rx="1.4" ry="0.7" fill="#3d7fd0" />
<polygon points="154.0,274.0 161.0,277.0 160.0,279.0 153.0,276.0" fill="#3f7fcf" />
<polygon points="168.5,296.4 169.9,296.4 169.7,303.7 168.7,303.7" fill="#7a5aa0" />
<polygon points="170.1,296.4 171.5,296.4 171.3,303.7 170.3,303.7" fill="#7a5aa0" />
<rect x="168.2" y="290.4" width="3.6" height="6.5" rx="1.1" fill="#f5d43a"/>
<circle cx="170.0" cy="288.9" r="1.5" fill="#f0c29c" />
<path d="M168.4,288.9 a1.6,1.6 0 0 1 3.2,0 z" fill="#e85a4a"/>
<ellipse cx="169.2" cy="304.0" rx="0.9" ry="0.5" fill="#3d7fd0" />
<ellipse cx="170.8" cy="304.0" rx="0.9" ry="0.5" fill="#3d7fd0" />
<rect x="41.6" y="216.0" width="2.7" height="9.0" fill="#7a4a2a" />
<circle cx="39.2" cy="211.5" r="6.3" fill="#6f9a2a" />
<circle cx="45.7" cy="210.0" r="6.6" fill="#8bb13a" />
<circle cx="42.2" cy="206.2" r="5.7" fill="#8bb13a" />
<rect x="57.0" y="198.0" width="6.0" height="7.0" fill="#7a3b2a" />
<polygon points="48.0,209.4 69.0,221.0 69.0,238.0 48.0,226.4" fill="#f0eee6" />
<polygon points="69.0,221.0 79.0,215.5 79.0,232.5 69.0,238.0" fill="#f7f6f1" />
<polygon points="48.0,209.4 69.0,221.0 79.0,215.5 58.0,203.9" fill="#2e5367" />
<polygon points="46,212 65,200 79,207 69,217" fill="#34607a"/>
<polygon points="46,212 69,217 65,200" fill="#2b5366"/>
<polygon points="69.0,212.5 92.6,225.5 92.6,251.5 69.0,238.5" fill="#f0eee6" />
<polygon points="92.6,225.5 110.5,215.7 110.5,241.7 92.6,251.5" fill="#fbfaf6" />
<polygon points="69.0,212.5 92.6,225.5 110.5,215.7 86.9,202.7" fill="#2e5367" />
<polygon points="67,213.5 92.6,227 87.5,201.5" fill="#3a6a80"/>
<polygon points="92.6,227 112,215.5 87.5,201.5" fill="#2b5366"/>
<polygon points="96.0,233.0 99.0,231.2 99.0,236.5 96.0,238.3" fill="#b8b4e6" />
<polygon points="103.0,229.0 106.0,227.2 106.0,232.5 103.0,234.3" fill="#b8b4e6" />
<polygon points="96.0,243.0 99.0,241.2 99.0,246.5 96.0,248.3" fill="#b8b4e6" />
<polygon points="103.0,239.0 106.0,237.2 106.0,242.5 103.0,244.3" fill="#b8b4e6" />
<polygon points="77.0,225.0 79.5,226.4 79.5,231.4 77.0,230.0" fill="#b8b4e6" />
<polygon points="77.0,236.0 79.5,237.4 79.5,242.4 77.0,241.0" fill="#b8b4e6" />
<polygon points="51.0,216.0 53.5,217.4 53.5,222.4 51.0,221.0" fill="#b8b4e6" />
<polygon points="69.0,236.0 78.0,231.0 86.0,236.0 77.0,241.0" fill="#1d3a48" />
<polygon points="70.0,243.0 79.0,238.0 87.0,243.0 78.0,248.0" fill="#f3f3f7" stroke="#555" stroke-width="0.5"/>
<polygon points="69.0,238.0 92.6,251.5 110.5,241.7 110.5,243.0 92.6,253.0 69.0,239.5" fill="#2a3a44" />
<rect x="57.2" y="245.0" width="1.3" height="10.0" fill="#f0c29c" />
<rect x="59.8" y="245.0" width="1.3" height="10.0" fill="#f0c29c" />
<ellipse cx="57.8" cy="255.5" rx="1.3" ry="0.7" fill="#222" />
<ellipse cx="60.6" cy="255.5" rx="1.3" ry="0.7" fill="#222" />
<polygon points="55.5,235.0 62.8,235.0 63.5,247.0 54.8,247.0" fill="#6e6e72" />
<rect x="54.3" y="222.5" width="10" height="14" rx="2.5" fill="#77777c"/>
<polygon points="58.0,223.0 60.8,223.0 59.4,229.0" fill="#ffffff" />
<circle cx="59.4" cy="219.5" r="2.6" fill="#f0c29c" />
<path d="M56.6,219.5 a2.8,2.8 0 0 1 5.6,0 l-0.5,-0.3 q-2.3,-1.5 -4.6,0 z" fill="#3b2418"/>
</svg>
<div class="lb" style="left:128.2px;top:47.5px;width:95.4px;height:52.6px"></div><div class="lt" style="left:135px;top:56.7px">智慧内控场景</div><div class="lx" style="left:135px;top:69.9px">OA办公、员工平台</div><div class="lx" style="left:135px;top:80.6px">市场拓展、全景计划</div><div class="lb" style="left:21.5px;top:139.2px;width:101.8px;height:57.4px"></div><div class="lt" style="left:28.2px;top:148.5px">管家服务场景</div><div class="lx" style="left:28.2px;top:162.5px">管家易、业主增值服务</div><div class="lx" style="left:28.2px;top:173.5px">(商城服务、到家服务)</div><div class="lb" style="left:302.7px;top:61.2px;width:100.0px;height:52.7px"></div><div class="lt" style="left:311.3px;top:74.5px">数字化采购场景</div><div class="lx" style="left:311.3px;top:87.5px">物资仓储、集中采购</div><div class="lb" style="left:407.4px;top:98.2px;width:96.1px;height:52.4px"></div><div class="lt" style="left:420px;top:113.0px">空间资源管理场景</div><div class="lx" style="left:420px;top:126.1px">多种经营合同</div><div class="lb" style="left:490.5px;top:156.7px;width:78.3px;height:50.4px"></div><div class="lt" style="left:502px;top:169.9px">财务收入场景</div><div class="lx" style="left:502px;top:182.3px">应收中台</div><div class="lb" style="left:576.2px;top:204.2px;width:91.7px;height:50.9px"></div><div class="lt" style="left:585.6px;top:212.4px">财务支出场景</div><div class="lx" style="left:585.6px;top:225.3px">预算费控、合同易</div><div class="lx" style="left:585.6px;top:236.2px">应付中台</div><div class="lb" style="left:309.2px;top:226.2px;width:100.2px;height:57.3px"></div><div class="lt" style="left:319.6px;top:236.2px">数据决策场景</div><div class="lx" style="left:319.6px;top:250.8px">战图大屏</div><div class="lx" style="left:319.6px;top:261.7px">PC/移动管理驾驶舱</div><div class="lb" style="left:22.3px;top:269.3px;width:102.6px;height:73.9px"></div><div class="lt" style="left:31.7px;top:278.5px">智慧物联场景</div><div class="lx" style="left:31.7px;top:291.5px">智能门禁、智能道闸</div><div class="lx" style="left:31.7px;top:302.8px">能耗监控、智能梯控</div><div class="lx" style="left:31.7px;top:314.0px">智慧安防、智慧消防</div><div class="lx" style="left:31.7px;top:325.4px">智能巡更、快递柜</div><div class="lb" style="left:110.2px;top:348.6px;width:100.4px;height:44.0px"></div><div class="lt" style="left:122.8px;top:358.6px">客户服务场景</div><div class="lx" style="left:122.8px;top:373.2px">呼叫中心、客服工单</div><div class="lb" style="left:214.2px;top:396.7px;width:99.4px;height:51.4px"></div><div class="lt" style="left:222.8px;top:404.3px">业主自助场景</div><div class="lx" style="left:222.8px;top:418.6px">业主O2O：在线缴费</div><div class="lx" style="left:222.8px;top:429.4px">报事报修、新闻公告</div><div class="lb" style="left:331.2px;top:446.7px;width:96.1px;height:41.9px"></div><div class="lt" style="left:348px;top:455.2px">品质管理场景</div><div class="lx" style="left:348px;top:467.9px">品质巡查</div><div class="lb" style="left:513.5px;top:421.2px;width:90.1px;height:44.2px"></div><div class="lt" style="left:527px;top:431.0px">设备维保场景</div><div class="lx" style="left:527px;top:443.6px">工程设备</div>
<svg width="742" height="509" style="position:absolute;left:0;top:0"><polyline points="224,68.2 249.6,68.2 249.6,91" fill="none" stroke="#4f93d2" stroke-width="0.9" stroke-dasharray="0.9 1.9"/>
<polyline points="28,198 28,210.5 40,210.5" fill="none" stroke="#4f93d2" stroke-width="0.9" stroke-dasharray="0.9 1.9"/>
<polyline points="354.8,114 354.8,125" fill="none" stroke="#4f93d2" stroke-width="0.9" stroke-dasharray="0.9 1.9"/>
<polyline points="456,151 456,160 447,160" fill="none" stroke="#4f93d2" stroke-width="0.9" stroke-dasharray="0.9 1.9"/>
<polyline points="550,207.5 550,218.6 534.5,218.6" fill="none" stroke="#4f93d2" stroke-width="0.9" stroke-dasharray="0.9 1.9"/>
<polyline points="645.5,255.5 645.5,264 634.5,264" fill="none" stroke="#4f93d2" stroke-width="0.9" stroke-dasharray="0.9 1.9"/>
<polyline points="410,255.8 432,255.8 432,262" fill="none" stroke="#4f93d2" stroke-width="0.9" stroke-dasharray="0.9 1.9"/>
<polyline points="125,310 144.5,310 144.5,279.6" fill="none" stroke="#4f93d2" stroke-width="0.9" stroke-dasharray="0.9 1.9"/>
<polyline points="211,369.6 245.3,369.6 245.3,350" fill="none" stroke="#4f93d2" stroke-width="0.9" stroke-dasharray="0.9 1.9"/>
<polyline points="314,420.8 365,420.8 365,403" fill="none" stroke="#4f93d2" stroke-width="0.9" stroke-dasharray="0.9 1.9"/>
<polyline points="427.5,467 459.5,467 459.5,445" fill="none" stroke="#4f93d2" stroke-width="0.9" stroke-dasharray="0.9 1.9"/>
<polyline points="585.8,421 585.8,399 555,399" fill="none" stroke="#4f93d2" stroke-width="0.9" stroke-dasharray="0.9 1.9"/></svg>
<div class="tri"></div>
<div class="tt" style="left:265.5px;top:18px">新视窗数智化</div><div class="t12">12</div><div class="tt" style="left:409.5px;top:18px;letter-spacing:-0.9px">大场景</div>
</body></html>
